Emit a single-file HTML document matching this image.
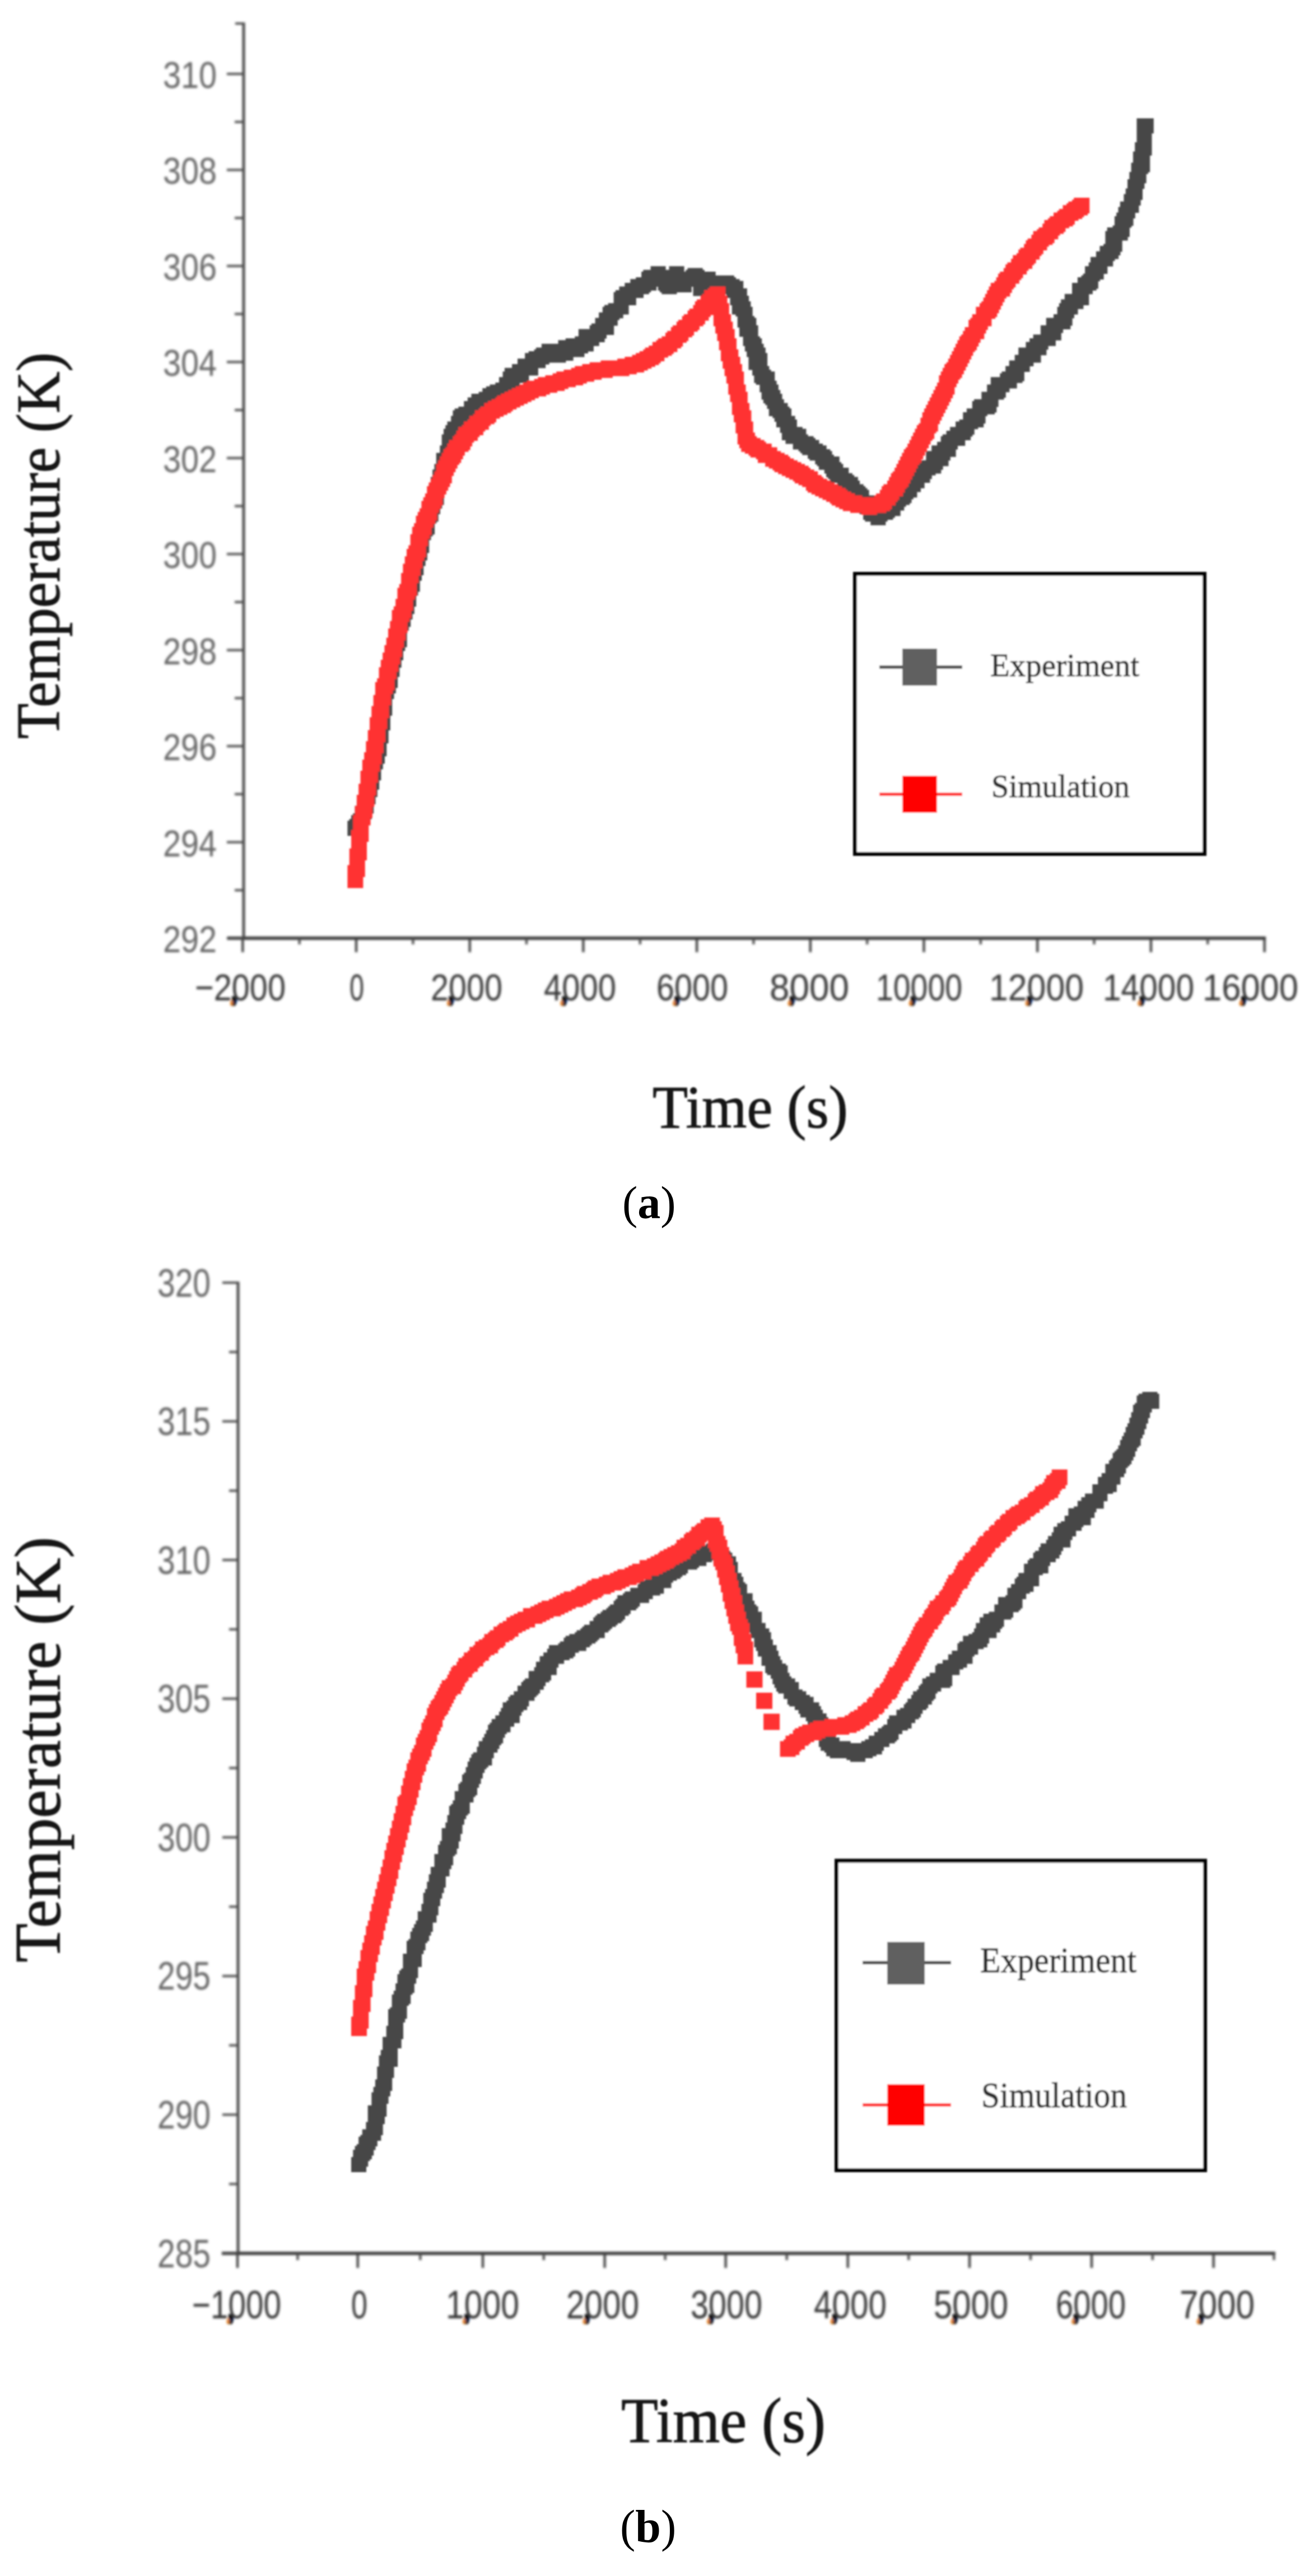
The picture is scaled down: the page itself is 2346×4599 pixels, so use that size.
<!DOCTYPE html>
<html lang="en"><head><meta charset="utf-8"><title>Temperature vs time: experiment and simulation</title>
<style>
html,body{margin:0;padding:0;background:#fff}
svg{display:block}
text{font-family:"Liberation Sans",sans-serif}
.serif{font-family:"Liberation Serif",serif}
</style></head><body>
<svg width="2346" height="4599" viewBox="0 0 2346 4599">
<defs>
<filter id="soft" x="-2%" y="-2%" width="104%" height="104%"><feGaussianBlur stdDeviation="1.6"/></filter>
<filter id="soft2" x="-2%" y="-2%" width="104%" height="104%"><feGaussianBlur stdDeviation="1.5"/></filter>
<filter id="softax" x="-2%" y="-2%" width="104%" height="104%"><feGaussianBlur stdDeviation="2.2"/></filter>
<filter id="softlb" x="-2%" y="-2%" width="104%" height="104%"><feGaussianBlur stdDeviation="2.0"/></filter>
</defs>
<rect width="2346" height="4599" fill="#fff"/>

<g filter="url(#softax)">
<path d="M435 40L435 1677.5" stroke="#4c4c4c" stroke-width="5" fill="none"/>
<path d="M406 1675L2260.1 1675" stroke="#3e3e3e" stroke-width="6" fill="none"/>
<path d="M420 42L435 42" stroke="#4c4c4c" stroke-width="4" fill="none"/>
<path d="M405 1675.0L435 1675.0" stroke="#4c4c4c" stroke-width="4" fill="none"/>
<path d="M419 1589.3L435 1589.3" stroke="#4c4c4c" stroke-width="4" fill="none"/>
<path d="M405 1503.6L435 1503.6" stroke="#4c4c4c" stroke-width="4" fill="none"/>
<path d="M419 1417.8L435 1417.8" stroke="#4c4c4c" stroke-width="4" fill="none"/>
<path d="M405 1332.1L435 1332.1" stroke="#4c4c4c" stroke-width="4" fill="none"/>
<path d="M419 1246.4L435 1246.4" stroke="#4c4c4c" stroke-width="4" fill="none"/>
<path d="M405 1160.7L435 1160.7" stroke="#4c4c4c" stroke-width="4" fill="none"/>
<path d="M419 1074.9L435 1074.9" stroke="#4c4c4c" stroke-width="4" fill="none"/>
<path d="M405 989.2L435 989.2" stroke="#4c4c4c" stroke-width="4" fill="none"/>
<path d="M419 903.5L435 903.5" stroke="#4c4c4c" stroke-width="4" fill="none"/>
<path d="M405 817.8L435 817.8" stroke="#4c4c4c" stroke-width="4" fill="none"/>
<path d="M419 732.1L435 732.1" stroke="#4c4c4c" stroke-width="4" fill="none"/>
<path d="M405 646.3L435 646.3" stroke="#4c4c4c" stroke-width="4" fill="none"/>
<path d="M419 560.6L435 560.6" stroke="#4c4c4c" stroke-width="4" fill="none"/>
<path d="M405 474.9L435 474.9" stroke="#4c4c4c" stroke-width="4" fill="none"/>
<path d="M419 389.2L435 389.2" stroke="#4c4c4c" stroke-width="4" fill="none"/>
<path d="M405 303.4L435 303.4" stroke="#4c4c4c" stroke-width="4" fill="none"/>
<path d="M419 217.7L435 217.7" stroke="#4c4c4c" stroke-width="4" fill="none"/>
<path d="M405 132.0L435 132.0" stroke="#4c4c4c" stroke-width="4" fill="none"/>
<path d="M433.3 1675L433.3 1700" stroke="#3e3e3e" stroke-width="4.2" fill="none"/>
<path d="M534.6 1675L534.6 1686" stroke="#4c4c4c" stroke-width="4.2" fill="none"/>
<path d="M636.0 1675L636.0 1700" stroke="#3e3e3e" stroke-width="4.2" fill="none"/>
<path d="M737.4 1675L737.4 1686" stroke="#4c4c4c" stroke-width="4.2" fill="none"/>
<path d="M838.7 1675L838.7 1700" stroke="#3e3e3e" stroke-width="4.2" fill="none"/>
<path d="M940.0 1675L940.0 1686" stroke="#4c4c4c" stroke-width="4.2" fill="none"/>
<path d="M1041.4 1675L1041.4 1700" stroke="#3e3e3e" stroke-width="4.2" fill="none"/>
<path d="M1142.8 1675L1142.8 1686" stroke="#4c4c4c" stroke-width="4.2" fill="none"/>
<path d="M1244.1 1675L1244.1 1700" stroke="#3e3e3e" stroke-width="4.2" fill="none"/>
<path d="M1345.4 1675L1345.4 1686" stroke="#4c4c4c" stroke-width="4.2" fill="none"/>
<path d="M1446.8 1675L1446.8 1700" stroke="#3e3e3e" stroke-width="4.2" fill="none"/>
<path d="M1548.2 1675L1548.2 1686" stroke="#4c4c4c" stroke-width="4.2" fill="none"/>
<path d="M1649.5 1675L1649.5 1700" stroke="#3e3e3e" stroke-width="4.2" fill="none"/>
<path d="M1750.8 1675L1750.8 1686" stroke="#4c4c4c" stroke-width="4.2" fill="none"/>
<path d="M1852.2 1675L1852.2 1700" stroke="#3e3e3e" stroke-width="4.2" fill="none"/>
<path d="M1953.5 1675L1953.5 1686" stroke="#4c4c4c" stroke-width="4.2" fill="none"/>
<path d="M2054.9 1675L2054.9 1700" stroke="#3e3e3e" stroke-width="4.2" fill="none"/>
<path d="M2156.2 1675L2156.2 1686" stroke="#4c4c4c" stroke-width="4.2" fill="none"/>
<path d="M2257.6 1675L2257.6 1700" stroke="#3e3e3e" stroke-width="4.2" fill="none"/>
</g>
<g filter="url(#softlb)">
<text x="291" y="1700.0" font-size="67.0" textLength="96" lengthAdjust="spacingAndGlyphs" fill="#666666">292</text>
<text x="291" y="1528.6" font-size="67.0" textLength="96" lengthAdjust="spacingAndGlyphs" fill="#666666">294</text>
<text x="291" y="1357.1" font-size="67.0" textLength="96" lengthAdjust="spacingAndGlyphs" fill="#666666">296</text>
<text x="291" y="1185.7" font-size="67.0" textLength="96" lengthAdjust="spacingAndGlyphs" fill="#666666">298</text>
<text x="291" y="1014.2" font-size="67.0" textLength="96" lengthAdjust="spacingAndGlyphs" fill="#666666">300</text>
<text x="291" y="842.8" font-size="67.0" textLength="96" lengthAdjust="spacingAndGlyphs" fill="#666666">302</text>
<text x="291" y="671.3" font-size="67.0" textLength="96" lengthAdjust="spacingAndGlyphs" fill="#666666">304</text>
<text x="291" y="499.9" font-size="67.0" textLength="96" lengthAdjust="spacingAndGlyphs" fill="#666666">306</text>
<text x="291" y="328.4" font-size="67.0" textLength="96" lengthAdjust="spacingAndGlyphs" fill="#666666">308</text>
<text x="291" y="157.0" font-size="67.0" textLength="96" lengthAdjust="spacingAndGlyphs" fill="#666666">310</text>
<ellipse cx="414.8" cy="1790.0" rx="3.6" ry="6" fill="#e8801e" transform="rotate(20 414.8 1790.0)"/>
<ellipse cx="419.8" cy="1787.5" rx="3.6" ry="6" fill="#1d6fe0" transform="rotate(20 419.8 1787.5)"/>
<text y="1785.5" font-size="67.0" fill="#383838"><tspan x="348" textLength="65.8" lengthAdjust="spacingAndGlyphs">−2</tspan><tspan x="411.3" y="1786.5" font-size="50.9" font-weight="bold" fill="#08080c" stroke="#08080c" stroke-width="1.5">,</tspan><tspan x="413.8" y="1785.5" textLength="96.2" lengthAdjust="spacingAndGlyphs">000</tspan></text>
<text x="624" y="1785.5" font-size="67.0" textLength="26" lengthAdjust="spacingAndGlyphs" fill="#383838">0</text>
<ellipse cx="802.0" cy="1790.0" rx="3.6" ry="6" fill="#e8801e" transform="rotate(20 802.0 1790.0)"/>
<ellipse cx="807.0" cy="1787.5" rx="3.6" ry="6" fill="#1d6fe0" transform="rotate(20 807.0 1787.5)"/>
<text y="1785.5" font-size="67.0" fill="#383838"><tspan x="769" textLength="32.0" lengthAdjust="spacingAndGlyphs">2</tspan><tspan x="798.5" y="1786.5" font-size="50.9" font-weight="bold" fill="#08080c" stroke="#08080c" stroke-width="1.5">,</tspan><tspan x="801.0" y="1785.5" textLength="96.0" lengthAdjust="spacingAndGlyphs">000</tspan></text>
<ellipse cx="1004.2" cy="1790.0" rx="3.6" ry="6" fill="#e8801e" transform="rotate(20 1004.2 1790.0)"/>
<ellipse cx="1009.2" cy="1787.5" rx="3.6" ry="6" fill="#1d6fe0" transform="rotate(20 1009.2 1787.5)"/>
<text y="1785.5" font-size="67.0" fill="#383838"><tspan x="971" textLength="32.2" lengthAdjust="spacingAndGlyphs">4</tspan><tspan x="1000.8" y="1786.5" font-size="50.9" font-weight="bold" fill="#08080c" stroke="#08080c" stroke-width="1.5">,</tspan><tspan x="1003.2" y="1785.5" textLength="96.8" lengthAdjust="spacingAndGlyphs">000</tspan></text>
<ellipse cx="1205.0" cy="1790.0" rx="3.6" ry="6" fill="#e8801e" transform="rotate(20 1205.0 1790.0)"/>
<ellipse cx="1210.0" cy="1787.5" rx="3.6" ry="6" fill="#1d6fe0" transform="rotate(20 1210.0 1787.5)"/>
<text y="1785.5" font-size="67.0" fill="#383838"><tspan x="1172" textLength="32.0" lengthAdjust="spacingAndGlyphs">6</tspan><tspan x="1201.5" y="1786.5" font-size="50.9" font-weight="bold" fill="#08080c" stroke="#08080c" stroke-width="1.5">,</tspan><tspan x="1204.0" y="1785.5" textLength="96.0" lengthAdjust="spacingAndGlyphs">000</tspan></text>
<ellipse cx="1410.5" cy="1790.0" rx="3.6" ry="6" fill="#e8801e" transform="rotate(20 1410.5 1790.0)"/>
<ellipse cx="1415.5" cy="1787.5" rx="3.6" ry="6" fill="#1d6fe0" transform="rotate(20 1415.5 1787.5)"/>
<text y="1785.5" font-size="67.0" fill="#383838"><tspan x="1374" textLength="35.5" lengthAdjust="spacingAndGlyphs">8</tspan><tspan x="1407.0" y="1786.5" font-size="50.9" font-weight="bold" fill="#08080c" stroke="#08080c" stroke-width="1.5">,</tspan><tspan x="1409.5" y="1785.5" textLength="106.5" lengthAdjust="spacingAndGlyphs">000</tspan></text>
<ellipse cx="1626.6" cy="1790.0" rx="3.6" ry="6" fill="#e8801e" transform="rotate(20 1626.6 1790.0)"/>
<ellipse cx="1631.6" cy="1787.5" rx="3.6" ry="6" fill="#1d6fe0" transform="rotate(20 1631.6 1787.5)"/>
<text y="1785.5" font-size="67.0" fill="#383838"><tspan x="1564" textLength="61.6" lengthAdjust="spacingAndGlyphs">10</tspan><tspan x="1623.1" y="1786.5" font-size="50.9" font-weight="bold" fill="#08080c" stroke="#08080c" stroke-width="1.5">,</tspan><tspan x="1625.6" y="1785.5" textLength="92.4" lengthAdjust="spacingAndGlyphs">000</tspan></text>
<ellipse cx="1834.6" cy="1790.0" rx="3.6" ry="6" fill="#e8801e" transform="rotate(20 1834.6 1790.0)"/>
<ellipse cx="1839.6" cy="1787.5" rx="3.6" ry="6" fill="#1d6fe0" transform="rotate(20 1839.6 1787.5)"/>
<text y="1785.5" font-size="67.0" fill="#383838"><tspan x="1766" textLength="67.6" lengthAdjust="spacingAndGlyphs">12</tspan><tspan x="1831.1" y="1786.5" font-size="50.9" font-weight="bold" fill="#08080c" stroke="#08080c" stroke-width="1.5">,</tspan><tspan x="1833.6" y="1785.5" textLength="101.4" lengthAdjust="spacingAndGlyphs">000</tspan></text>
<ellipse cx="2035.2" cy="1790.0" rx="3.6" ry="6" fill="#e8801e" transform="rotate(20 2035.2 1790.0)"/>
<ellipse cx="2040.2" cy="1787.5" rx="3.6" ry="6" fill="#1d6fe0" transform="rotate(20 2040.2 1787.5)"/>
<text y="1785.5" font-size="67.0" fill="#383838"><tspan x="1969" textLength="65.2" lengthAdjust="spacingAndGlyphs">14</tspan><tspan x="2031.7" y="1786.5" font-size="50.9" font-weight="bold" fill="#08080c" stroke="#08080c" stroke-width="1.5">,</tspan><tspan x="2034.2" y="1785.5" textLength="97.8" lengthAdjust="spacingAndGlyphs">000</tspan></text>
<ellipse cx="2216.4" cy="1790.0" rx="3.6" ry="6" fill="#e8801e" transform="rotate(20 2216.4 1790.0)"/>
<ellipse cx="2221.4" cy="1787.5" rx="3.6" ry="6" fill="#1d6fe0" transform="rotate(20 2221.4 1787.5)"/>
<text y="1785.5" font-size="67.0" fill="#383838"><tspan x="2147" textLength="68.4" lengthAdjust="spacingAndGlyphs">16</tspan><tspan x="2212.9" y="1786.5" font-size="50.9" font-weight="bold" fill="#08080c" stroke="#08080c" stroke-width="1.5">,</tspan><tspan x="2215.4" y="1785.5" textLength="102.6" lengthAdjust="spacingAndGlyphs">000</tspan></text>
</g>
<g filter="url(#soft2)">
<path fill="#464646" d="M620.4 1465.2h27v27h-27zM623.7 1461.9h27v27h-27zM627 1455.3h27v27h-27zM630.3 1452h27v27h-27zM633.6 1445.4h27v27h-27zM633.6 1438.8h27v27h-27zM636.9 1435.5h27v27h-27zM636.9 1428.9h27v27h-27zM640.2 1425.6h27v27h-27zM640.2 1419h27v27h-27zM643.5 1409.1h27v27h-27zM643.5 1405.8h27v27h-27zM643.5 1399.2h27v27h-27zM646.8 1395.9h27v27h-27zM646.8 1389.3h27v27h-27zM650.1 1382.7h27v27h-27zM650.1 1376.1h27v27h-27zM650.1 1369.5h27v27h-27zM653.4 1366.2h27v27h-27zM653.4 1359.6h27v27h-27zM653.4 1353h27v27h-27zM656.7 1346.4h27v27h-27zM656.7 1343.1h27v27h-27zM660 1336.5h27v27h-27zM660 1329.9h27v27h-27zM663.3 1323.3h27v27h-27zM660 1320h27v27h-27zM663.3 1313.4h27v27h-27zM663.3 1306.8h27v27h-27zM666.6 1300.2h27v27h-27zM666.6 1293.6h27v27h-27zM666.6 1287h27v27h-27zM666.6 1283.7h27v27h-27zM669.9 1277.1h27v27h-27zM669.9 1270.5h27v27h-27zM669.9 1263.9h27v27h-27zM669.9 1260.6h27v27h-27zM673.2 1250.7h27v27h-27zM673.2 1247.4h27v27h-27zM673.2 1240.8h27v27h-27zM673.2 1234.2h27v27h-27zM673.2 1230.9h27v27h-27zM676.5 1221h27v27h-27zM676.5 1217.7h27v27h-27zM679.8 1211.1h27v27h-27zM679.8 1207.8h27v27h-27zM683.1 1201.2h27v27h-27zM683.1 1194.6h27v27h-27zM683.1 1188h27v27h-27zM686.4 1181.4h27v27h-27zM686.4 1174.8h27v27h-27zM686.4 1171.5h27v27h-27zM689.7 1164.9h27v27h-27zM689.7 1158.3h27v27h-27zM693 1151.7h27v27h-27zM693 1148.4h27v27h-27zM693 1141.8h27v27h-27zM696.3 1135.2h27v27h-27zM699.6 1128.6h27v27h-27zM699.6 1125.3h27v27h-27zM699.6 1118.7h27v27h-27zM699.6 1112.1h27v27h-27zM699.6 1105.5h27v27h-27zM702.9 1098.9h27v27h-27zM706.2 1092.3h27v27h-27zM706.2 1085.7h27v27h-27zM706.2 1082.4h27v27h-27zM709.5 1079.1h27v27h-27zM712.8 1069.2h27v27h-27zM712.8 1065.9h27v27h-27zM712.8 1059.3h27v27h-27zM716.1 1056h27v27h-27zM716.1 1046.1h27v27h-27zM716.1 1039.5h27v27h-27zM719.4 1036.2h27v27h-27zM722.7 1029.6h27v27h-27zM719.4 1026.3h27v27h-27zM722.7 1016.4h27v27h-27zM726 1009.8h27v27h-27zM726 1006.5h27v27h-27zM729.3 999.9h27v27h-27zM729.3 993.3h27v27h-27zM729.3 990h27v27h-27zM732.6 983.4h27v27h-27zM732.6 976.8h27v27h-27zM735.9 973.5h27v27h-27zM735.9 966.9h27v27h-27zM739.2 960.3h27v27h-27zM739.2 953.7h27v27h-27zM739.2 947.1h27v27h-27zM739.2 940.5h27v27h-27zM742.5 937.2h27v27h-27zM745.8 930.6h27v27h-27zM749.1 927.3h27v27h-27zM749.1 920.7h27v27h-27zM749.1 914.1h27v27h-27zM752.4 907.5h27v27h-27zM755.7 904.2h27v27h-27zM755.7 897.6h27v27h-27zM759 891h27v27h-27zM759 884.4h27v27h-27zM762.3 881.1h27v27h-27zM765.6 874.5h27v27h-27zM765.6 867.9h27v27h-27zM765.6 864.6h27v27h-27zM768.9 854.7h27v27h-27zM768.9 851.4h27v27h-27zM772.2 844.8h27v27h-27zM772.2 838.2h27v27h-27zM775.5 834.9h27v27h-27zM775.5 828.3h27v27h-27zM778.8 821.7h27v27h-27zM778.8 815.1h27v27h-27zM778.8 808.5h27v27h-27zM785.4 805.2h27v27h-27zM785.4 798.6h27v27h-27zM785.4 795.3h27v27h-27zM788.7 785.4h27v27h-27zM788.7 782.1h27v27h-27zM788.7 775.5h27v27h-27zM792 768.9h27v27h-27zM792 765.6h27v27h-27zM795.3 759h27v27h-27zM798.6 759h27v27h-27zM798.6 752.4h27v27h-27zM805.2 742.5h27v27h-27zM808.5 732.6h27v27h-27zM811.8 729.3h27v27h-27zM811.8 732.6h27v27h-27zM818.4 726h27v27h-27zM828.3 722.7h27v27h-27zM828.3 716.1h27v27h-27zM834.9 716.1h27v27h-27zM834.9 709.5h27v27h-27zM841.5 702.9h27v27h-27zM851.4 702.9h27v27h-27zM854.7 699.6h27v27h-27zM861.3 693h27v27h-27zM864.6 693h27v27h-27zM867.9 689.7h27v27h-27zM874.5 686.4h27v27h-27zM877.8 686.4h27v27h-27zM884.4 683.1h27v27h-27zM891 673.2h27v27h-27zM894.3 676.5h27v27h-27zM900.9 663.3h27v27h-27zM897.6 663.3h27v27h-27zM900.9 656.7h27v27h-27zM904.2 656.7h27v27h-27zM917.4 656.7h27v27h-27zM914.1 650.1h27v27h-27zM924 640.2h27v27h-27zM933.9 643.5h27v27h-27zM930.6 640.2h27v27h-27zM937.2 630.3h27v27h-27zM947.1 630.3h27v27h-27zM943.8 627h27v27h-27zM953.7 623.7h27v27h-27zM957 620.4h27v27h-27zM966.9 613.8h27v27h-27zM970.2 617.1h27v27h-27zM970.2 613.8h27v27h-27zM983.4 617.1h27v27h-27zM983.4 620.4h27v27h-27zM996.6 617.1h27v27h-27zM996.6 607.2h27v27h-27zM999.9 610.5h27v27h-27zM1009.8 603.9h27v27h-27zM1016.4 610.5h27v27h-27zM1026.3 600.6h27v27h-27zM1023 603.9h27v27h-27zM1032.9 600.6h27v27h-27zM1032.9 587.4h27v27h-27zM1042.8 587.4h27v27h-27zM1042.8 590.7h27v27h-27zM1052.7 584.1h27v27h-27zM1052.7 580.8h27v27h-27zM1056 577.5h27v27h-27zM1062.6 567.6h27v27h-27zM1069.2 570.9h27v27h-27zM1069.2 557.7h27v27h-27zM1075.8 554.4h27v27h-27zM1075.8 547.8h27v27h-27zM1079.1 544.5h27v27h-27zM1085.7 541.2h27v27h-27zM1095.6 534.6h27v27h-27zM1095.6 528h27v27h-27zM1095.6 521.4h27v27h-27zM1098.9 518.1h27v27h-27zM1108.8 518.1h27v27h-27zM1105.5 511.5h27v27h-27zM1115.4 504.9h27v27h-27zM1118.7 504.9h27v27h-27zM1122 504.9h27v27h-27zM1125.3 498.3h27v27h-27zM1131.9 498.3h27v27h-27zM1135.2 495h27v27h-27zM1145.1 491.7h27v27h-27zM1145.1 485.1h27v27h-27zM1148.4 481.8h27v27h-27zM1151.7 485.1h27v27h-27zM1161.6 475.2h27v27h-27zM1161.6 481.8h27v27h-27zM1174.8 481.8h27v27h-27zM1171.5 485.1h27v27h-27zM1174.8 491.7h27v27h-27zM1178.1 495h27v27h-27zM1181.4 498.3h27v27h-27zM1194.6 488.4h27v27h-27zM1188 488.4h27v27h-27zM1194.6 475.2h27v27h-27zM1194.6 478.5h27v27h-27zM1201.2 485.1h27v27h-27zM1201.2 488.4h27v27h-27zM1204.5 491.7h27v27h-27zM1207.8 495h27v27h-27zM1211.1 485.1h27v27h-27zM1217.7 485.1h27v27h-27zM1224.3 481.8h27v27h-27zM1227.6 478.5h27v27h-27zM1230.9 481.8h27v27h-27zM1230.9 481.8h27v27h-27zM1240.8 485.1h27v27h-27zM1244.1 495h27v27h-27zM1237.5 501.6h27v27h-27zM1254 495h27v27h-27zM1254 491.7h27v27h-27zM1250.7 485.1h27v27h-27zM1260.6 491.7h27v27h-27zM1270.5 495h27v27h-27zM1270.5 498.3h27v27h-27zM1277.1 498.3h27v27h-27zM1277.1 491.7h27v27h-27zM1283.7 491.7h27v27h-27zM1287 495h27v27h-27zM1293.6 498.3h27v27h-27zM1296.9 504.9h27v27h-27zM1300.2 501.6h27v27h-27zM1306.8 514.8h27v27h-27zM1303.5 518.1h27v27h-27zM1306.8 521.4h27v27h-27zM1310.1 528h27v27h-27zM1306.8 534.6h27v27h-27zM1313.4 537.9h27v27h-27zM1316.7 547.8h27v27h-27zM1316.7 551.1h27v27h-27zM1316.7 557.7h27v27h-27zM1320 564.3h27v27h-27zM1323.3 567.6h27v27h-27zM1320 574.2h27v27h-27zM1326.6 580.8h27v27h-27zM1326.6 584.1h27v27h-27zM1326.6 590.7h27v27h-27zM1329.9 600.6h27v27h-27zM1333.2 603.9h27v27h-27zM1333.2 610.5h27v27h-27zM1336.5 613.8h27v27h-27zM1339.8 620.4h27v27h-27zM1343.1 630.3h27v27h-27zM1336.5 633.6h27v27h-27zM1343.1 640.2h27v27h-27zM1343.1 643.5h27v27h-27zM1346.4 653.4h27v27h-27zM1346.4 656.7h27v27h-27zM1349.7 660h27v27h-27zM1356.3 663.3h27v27h-27zM1356.3 673.2h27v27h-27zM1359.6 679.8h27v27h-27zM1359.6 686.4h27v27h-27zM1362.9 686.4h27v27h-27zM1362.9 693h27v27h-27zM1366.2 696.3h27v27h-27zM1369.5 702.9h27v27h-27zM1372.8 712.8h27v27h-27zM1372.8 716.1h27v27h-27zM1379.4 719.4h27v27h-27zM1382.7 726h27v27h-27zM1386 729.3h27v27h-27zM1386 735.9h27v27h-27zM1392.6 742.5h27v27h-27zM1392.6 745.8h27v27h-27zM1395.9 749.1h27v27h-27zM1395.9 759h27v27h-27zM1402.5 765.6h27v27h-27zM1405.8 762.3h27v27h-27zM1412.4 765.6h27v27h-27zM1415.7 775.5h27v27h-27zM1425.6 778.8h27v27h-27zM1428.9 782.1h27v27h-27zM1432.2 785.4h27v27h-27zM1435.5 785.4h27v27h-27zM1442.1 792h27v27h-27zM1445.4 795.3h27v27h-27zM1448.7 795.3h27v27h-27zM1455.3 801.9h27v27h-27zM1458.6 805.2h27v27h-27zM1461.9 811.8h27v27h-27zM1471.8 815.1h27v27h-27zM1471.8 818.4h27v27h-27zM1475.1 825h27v27h-27zM1478.4 828.3h27v27h-27zM1481.7 834.9h27v27h-27zM1488.3 834.9h27v27h-27zM1494.9 844.8h27v27h-27zM1494.9 844.8h27v27h-27zM1498.2 848.1h27v27h-27zM1504.8 851.4h27v27h-27zM1508.1 858h27v27h-27zM1514.7 864.6h27v27h-27zM1518 867.9h27v27h-27zM1521.3 871.2h27v27h-27zM1524.6 874.5h27v27h-27zM1524.6 881.1h27v27h-27zM1534.5 884.4h27v27h-27zM1534.5 891h27v27h-27zM1541.1 894.3h27v27h-27zM1541.1 900.9h27v27h-27zM1544.4 904.2h27v27h-27zM1554.3 910.8h27v27h-27zM1557.6 904.2h27v27h-27zM1554.3 907.5h27v27h-27zM1567.5 900.9h27v27h-27zM1570.8 894.3h27v27h-27zM1570.8 897.6h27v27h-27zM1580.7 894.3h27v27h-27zM1587.3 884.4h27v27h-27zM1584 877.8h27v27h-27zM1590.6 877.8h27v27h-27zM1597.2 874.5h27v27h-27zM1600.5 871.2h27v27h-27zM1603.8 864.6h27v27h-27zM1603.8 861.3h27v27h-27zM1610.4 861.3h27v27h-27zM1617 851.4h27v27h-27zM1617 844.8h27v27h-27zM1623.6 844.8h27v27h-27zM1623.6 834.9h27v27h-27zM1633.5 834.9h27v27h-27zM1636.8 828.3h27v27h-27zM1640.1 821.7h27v27h-27zM1643.4 821.7h27v27h-27zM1653.3 818.4h27v27h-27zM1656.6 811.8h27v27h-27zM1653.3 805.2h27v27h-27zM1666.5 805.2h27v27h-27zM1663.2 795.3h27v27h-27zM1669.8 795.3h27v27h-27zM1673.1 788.7h27v27h-27zM1679.7 788.7h27v27h-27zM1679.7 778.8h27v27h-27zM1683 775.5h27v27h-27zM1689.6 768.9h27v27h-27zM1696.2 768.9h27v27h-27zM1696.2 762.3h27v27h-27zM1706.1 759h27v27h-27zM1709.4 752.4h27v27h-27zM1706.1 752.4h27v27h-27zM1712.7 749.1h27v27h-27zM1719.3 739.2h27v27h-27zM1719.3 735.9h27v27h-27zM1729.2 735.9h27v27h-27zM1725.9 729.3h27v27h-27zM1732.5 729.3h27v27h-27zM1735.8 716.1h27v27h-27zM1739.1 712.8h27v27h-27zM1749 712.8h27v27h-27zM1752.3 709.5h27v27h-27zM1755.6 699.6h27v27h-27zM1752.3 699.6h27v27h-27zM1762.2 686.4h27v27h-27zM1765.5 686.4h27v27h-27zM1768.8 683.1h27v27h-27zM1768.8 673.2h27v27h-27zM1775.4 673.2h27v27h-27zM1785.3 666.6h27v27h-27zM1788.6 663.3h27v27h-27zM1788.6 666.6h27v27h-27zM1798.5 656.7h27v27h-27zM1795.2 653.4h27v27h-27zM1801.8 653.4h27v27h-27zM1801.8 643.5h27v27h-27zM1811.7 633.6h27v27h-27zM1811.7 636.9h27v27h-27zM1818.3 627h27v27h-27zM1818.3 620.4h27v27h-27zM1828.2 620.4h27v27h-27zM1831.5 620.4h27v27h-27zM1831.5 610.5h27v27h-27zM1841.4 607.2h27v27h-27zM1838.1 603.9h27v27h-27zM1844.7 597.3h27v27h-27zM1844.7 597.3h27v27h-27zM1857.9 590.7h27v27h-27zM1861.2 580.8h27v27h-27zM1857.9 580.8h27v27h-27zM1867.8 580.8h27v27h-27zM1867.8 567.6h27v27h-27zM1871.1 567.6h27v27h-27zM1881 561h27v27h-27zM1884.3 561h27v27h-27zM1887.6 554.4h27v27h-27zM1887.6 547.8h27v27h-27zM1890.9 541.2h27v27h-27zM1897.5 534.6h27v27h-27zM1894.2 534.6h27v27h-27zM1900.8 524.7h27v27h-27zM1900.8 524.7h27v27h-27zM1907.4 524.7h27v27h-27zM1917.3 518.1h27v27h-27zM1914 504.9h27v27h-27zM1917.3 504.9h27v27h-27zM1923.9 498.3h27v27h-27zM1923.9 495h27v27h-27zM1930.5 491.7h27v27h-27zM1933.8 488.4h27v27h-27zM1937.1 475.2h27v27h-27zM1943.7 471.9h27v27h-27zM1943.7 468.6h27v27h-27zM1950.3 462h27v27h-27zM1947 458.7h27v27h-27zM1950.3 458.7h27v27h-27zM1956.9 448.8h27v27h-27zM1960.2 448.8h27v27h-27zM1963.5 438.9h27v27h-27zM1970.1 435.6h27v27h-27zM1973.4 425.7h27v27h-27zM1973.4 429h27v27h-27zM1976.7 422.4h27v27h-27zM1973.4 412.5h27v27h-27zM1976.7 405.9h27v27h-27zM1986.6 402.6h27v27h-27zM1989.9 396h27v27h-27zM1989.9 392.7h27v27h-27zM1989.9 386.1h27v27h-27zM1993.2 379.5h27v27h-27zM1996.5 376.2h27v27h-27zM1996.5 369.6h27v27h-27zM1999.8 363h27v27h-27zM1999.8 359.7h27v27h-27zM2006.4 353.1h27v27h-27zM2006.4 346.5h27v27h-27zM2009.7 339.9h27v27h-27zM2009.7 336.6h27v27h-27zM2013 330h27v27h-27zM2013 323.4h27v27h-27zM2013 320.1h27v27h-27zM2016.3 310.2h27v27h-27zM2016.3 306.9h27v27h-27zM2019.6 300.3h27v27h-27zM2019.6 297h27v27h-27zM2019.6 290.4h27v27h-27zM2022.9 283.8h27v27h-27zM2026.2 280.5h27v27h-27zM2022.9 270.6h27v27h-27zM2026.2 264h27v27h-27zM2026.2 260.7h27v27h-27zM2026.2 254.1h27v27h-27zM2029.5 250.8h27v27h-27zM2029.5 240.9h27v27h-27zM2029.5 237.6h27v27h-27zM2029.5 231h27v27h-27zM2029.5 224.4h27v27h-27zM2029.5 217.8h27v27h-27zM2029.5 211.2h27v27h-27zM2032.8 211.2h27v27h-27z"/>
<path fill="#ff3131" d="M620.4 1557.6h28v28h-28zM620.4 1551h28v28h-28zM620.4 1544.4h28v28h-28zM623.7 1537.8h28v28h-28zM623.7 1531.2h28v28h-28zM623.7 1524.6h28v28h-28zM623.7 1514.7h28v28h-28zM627 1508.1h28v28h-28zM627 1501.5h28v28h-28zM627 1494.9h28v28h-28zM627 1488.3h28v28h-28zM627 1481.7h28v28h-28zM630.3 1475.1h28v28h-28zM630.3 1468.5h28v28h-28zM630.3 1461.9h28v28h-28zM630.3 1455.3h28v28h-28zM633.6 1445.4h28v28h-28zM633.6 1438.8h28v28h-28zM636.9 1432.2h28v28h-28zM636.9 1425.6h28v28h-28zM636.9 1419h28v28h-28zM640.2 1412.4h28v28h-28zM640.2 1405.8h28v28h-28zM640.2 1399.2h28v28h-28zM643.5 1392.6h28v28h-28zM643.5 1386h28v28h-28zM643.5 1376.1h28v28h-28zM646.8 1369.5h28v28h-28zM646.8 1362.9h28v28h-28zM646.8 1356.3h28v28h-28zM650.1 1349.7h28v28h-28zM650.1 1343.1h28v28h-28zM653.4 1336.5h28v28h-28zM653.4 1329.9h28v28h-28zM653.4 1323.3h28v28h-28zM656.7 1316.7h28v28h-28zM656.7 1310.1h28v28h-28zM656.7 1303.5h28v28h-28zM660 1296.9h28v28h-28zM660 1287h28v28h-28zM660 1280.4h28v28h-28zM663.3 1273.8h28v28h-28zM663.3 1267.2h28v28h-28zM663.3 1260.6h28v28h-28zM666.6 1254h28v28h-28zM666.6 1247.4h28v28h-28zM666.6 1240.8h28v28h-28zM669.9 1230.9h28v28h-28zM669.9 1224.3h28v28h-28zM669.9 1217.7h28v28h-28zM673.2 1211.1h28v28h-28zM676.5 1204.5h28v28h-28zM676.5 1197.9h28v28h-28zM676.5 1191.3h28v28h-28zM679.8 1184.7h28v28h-28zM679.8 1178.1h28v28h-28zM683.1 1171.5h28v28h-28zM683.1 1164.9h28v28h-28zM686.4 1158.3h28v28h-28zM686.4 1151.7h28v28h-28zM689.7 1145.1h28v28h-28zM689.7 1138.5h28v28h-28zM693 1128.6h28v28h-28zM693 1122h28v28h-28zM696.3 1115.4h28v28h-28zM696.3 1108.8h28v28h-28zM699.6 1102.2h28v28h-28zM699.6 1095.6h28v28h-28zM699.6 1089h28v28h-28zM702.9 1082.4h28v28h-28zM706.2 1075.8h28v28h-28zM706.2 1069.2h28v28h-28zM709.5 1062.6h28v28h-28zM709.5 1056h28v28h-28zM709.5 1049.4h28v28h-28zM712.8 1042.8h28v28h-28zM716.1 1036.2h28v28h-28zM716.1 1029.6h28v28h-28zM716.1 1023h28v28h-28zM719.4 1013.1h28v28h-28zM719.4 1006.5h28v28h-28zM722.7 999.9h28v28h-28zM722.7 993.3h28v28h-28zM726 986.7h28v28h-28zM726 980.1h28v28h-28zM729.3 973.5h28v28h-28zM732.6 966.9h28v28h-28zM732.6 960.3h28v28h-28zM732.6 953.7h28v28h-28zM735.9 947.1h28v28h-28zM735.9 940.5h28v28h-28zM739.2 933.9h28v28h-28zM742.5 927.3h28v28h-28zM742.5 920.7h28v28h-28zM745.8 914.1h28v28h-28zM749.1 907.5h28v28h-28zM752.4 900.9h28v28h-28zM752.4 894.3h28v28h-28zM755.7 887.7h28v28h-28zM759 881.1h28v28h-28zM762.3 874.5h28v28h-28zM762.3 867.9h28v28h-28zM765.6 861.3h28v28h-28zM768.9 854.7h28v28h-28zM772.2 848.1h28v28h-28zM775.5 841.5h28v28h-28zM778.8 834.9h28v28h-28zM778.8 828.3h28v28h-28zM782.1 821.7h28v28h-28zM785.4 815.1h28v28h-28zM788.7 808.5h28v28h-28zM792 801.9h28v28h-28zM795.3 798.6h28v28h-28zM798.6 792h28v28h-28zM801.9 785.4h28v28h-28zM808.5 778.8h28v28h-28zM811.8 775.5h28v28h-28zM815.1 768.9h28v28h-28zM818.4 762.3h28v28h-28zM825 759h28v28h-28zM828.3 752.4h28v28h-28zM834.9 749.1h28v28h-28zM838.2 742.5h28v28h-28zM844.8 739.2h28v28h-28zM848.1 732.6h28v28h-28zM854.7 729.3h28v28h-28zM858 726h28v28h-28zM864.6 719.4h28v28h-28zM871.2 716.1h28v28h-28zM877.8 712.8h28v28h-28zM884.4 709.5h28v28h-28zM887.7 706.2h28v28h-28zM894.3 702.9h28v28h-28zM900.9 699.6h28v28h-28zM907.5 696.3h28v28h-28zM914.1 693h28v28h-28zM920.7 689.7h28v28h-28zM927.3 686.4h28v28h-28zM933.9 683.1h28v28h-28zM940.5 679.8h28v28h-28zM947.1 679.8h28v28h-28zM953.7 676.5h28v28h-28zM960.3 673.2h28v28h-28zM966.9 673.2h28v28h-28zM973.5 669.9h28v28h-28zM980.1 669.9h28v28h-28zM986.7 666.6h28v28h-28zM993.3 663.3h28v28h-28zM999.9 663.3h28v28h-28zM1006.5 660h28v28h-28zM1013.1 660h28v28h-28zM1019.7 656.7h28v28h-28zM1026.3 653.4h28v28h-28zM1032.9 653.4h28v28h-28zM1039.5 650.1h28v28h-28zM1046.1 650.1h28v28h-28zM1052.7 646.8h28v28h-28zM1059.3 646.8h28v28h-28zM1065.9 646.8h28v28h-28zM1072.5 643.5h28v28h-28zM1082.4 643.5h28v28h-28zM1089 643.5h28v28h-28zM1095.6 643.5h28v28h-28zM1102.2 640.2h28v28h-28zM1108.8 640.2h28v28h-28zM1115.4 636.9h28v28h-28zM1122 636.9h28v28h-28zM1128.6 633.6h28v28h-28zM1135.2 630.3h28v28h-28zM1141.8 627h28v28h-28zM1148.4 623.7h28v28h-28zM1151.7 620.4h28v28h-28zM1158.3 617.1h28v28h-28zM1164.9 610.5h28v28h-28zM1171.5 607.2h28v28h-28zM1174.8 603.9h28v28h-28zM1181.4 600.6h28v28h-28zM1188 594h28v28h-28zM1191.3 590.7h28v28h-28zM1197.9 584.1h28v28h-28zM1201.2 580.8h28v28h-28zM1207.8 574.2h28v28h-28zM1211.1 570.9h28v28h-28zM1217.7 564.3h28v28h-28zM1221 561h28v28h-28zM1227.6 554.4h28v28h-28zM1230.9 551.1h28v28h-28zM1237.5 544.5h28v28h-28zM1240.8 537.9h28v28h-28zM1244.1 534.6h28v28h-28zM1250.7 528h28v28h-28zM1254 524.7h28v28h-28zM1257.3 518.1h28v28h-28zM1263.9 514.8h28v28h-28zM1267.2 511.5h28v28h-28zM1267.2 521.4h28v28h-28zM1270.5 528h28v28h-28zM1270.5 534.6h28v28h-28zM1273.8 541.2h28v28h-28zM1273.8 547.8h28v28h-28zM1273.8 554.4h28v28h-28zM1277.1 561h28v28h-28zM1277.1 567.6h28v28h-28zM1280.4 574.2h28v28h-28zM1280.4 580.8h28v28h-28zM1283.7 587.4h28v28h-28zM1283.7 597.3h28v28h-28zM1287 603.9h28v28h-28zM1287 610.5h28v28h-28zM1287 617.1h28v28h-28zM1290.3 623.7h28v28h-28zM1290.3 630.3h28v28h-28zM1293.6 636.9h28v28h-28zM1293.6 643.5h28v28h-28zM1296.9 650.1h28v28h-28zM1296.9 656.7h28v28h-28zM1300.2 663.3h28v28h-28zM1300.2 669.9h28v28h-28zM1300.2 676.5h28v28h-28zM1303.5 686.4h28v28h-28zM1303.5 689.7h28v28h-28zM1306.8 699.6h28v28h-28zM1306.8 706.2h28v28h-28zM1306.8 712.8h28v28h-28zM1310.1 719.4h28v28h-28zM1310.1 726h28v28h-28zM1313.4 732.6h28v28h-28zM1313.4 739.2h28v28h-28zM1313.4 745.8h28v28h-28zM1316.7 752.4h28v28h-28zM1316.7 759h28v28h-28zM1316.7 765.6h28v28h-28zM1320 772.2h28v28h-28zM1323.3 778.8h28v28h-28zM1329.9 782.1h28v28h-28zM1336.5 785.4h28v28h-28zM1339.8 788.7h28v28h-28zM1349.7 792h28v28h-28zM1353 798.6h28v28h-28zM1359.6 798.6h28v28h-28zM1366.2 805.2h28v28h-28zM1372.8 808.5h28v28h-28zM1379.4 811.8h28v28h-28zM1382.7 815.1h28v28h-28zM1389.3 818.4h28v28h-28zM1395.9 821.7h28v28h-28zM1402.5 825h28v28h-28zM1409.1 828.3h28v28h-28zM1415.7 831.6h28v28h-28zM1419 834.9h28v28h-28zM1425.6 838.2h28v28h-28zM1432.2 841.5h28v28h-28zM1438.8 848.1h28v28h-28zM1442.1 851.4h28v28h-28zM1448.7 854.7h28v28h-28zM1455.3 858h28v28h-28zM1461.9 861.3h28v28h-28zM1468.5 864.6h28v28h-28zM1475.1 867.9h28v28h-28zM1481.7 871.2h28v28h-28zM1485 874.5h28v28h-28zM1491.6 877.8h28v28h-28zM1498.2 881.1h28v28h-28zM1504.8 884.4h28v28h-28zM1511.4 884.4h28v28h-28zM1518 887.7h28v28h-28zM1524.6 887.7h28v28h-28zM1534.5 887.7h28v28h-28zM1537.8 891h28v28h-28zM1547.7 887.7h28v28h-28zM1554.3 887.7h28v28h-28zM1560.9 884.4h28v28h-28zM1564.2 881.1h28v28h-28zM1570.8 874.5h28v28h-28zM1574.1 867.9h28v28h-28zM1577.4 864.6h28v28h-28zM1584 858h28v28h-28zM1587.3 851.4h28v28h-28zM1590.6 844.8h28v28h-28zM1593.9 841.5h28v28h-28zM1597.2 834.9h28v28h-28zM1600.5 828.3h28v28h-28zM1603.8 821.7h28v28h-28zM1607.1 815.1h28v28h-28zM1610.4 808.5h28v28h-28zM1613.7 801.9h28v28h-28zM1617 798.6h28v28h-28zM1620.3 792h28v28h-28zM1623.6 785.4h28v28h-28zM1626.9 778.8h28v28h-28zM1630.2 772.2h28v28h-28zM1633.5 765.6h28v28h-28zM1636.8 759h28v28h-28zM1640.1 755.7h28v28h-28zM1643.4 745.8h28v28h-28zM1646.7 742.5h28v28h-28zM1646.7 735.9h28v28h-28zM1650 729.3h28v28h-28zM1653.3 722.7h28v28h-28zM1656.6 716.1h28v28h-28zM1659.9 709.5h28v28h-28zM1663.2 702.9h28v28h-28zM1666.5 696.3h28v28h-28zM1669.8 689.7h28v28h-28zM1673.1 683.1h28v28h-28zM1676.4 676.5h28v28h-28zM1676.4 669.9h28v28h-28zM1679.7 663.3h28v28h-28zM1683 656.7h28v28h-28zM1686.3 650.1h28v28h-28zM1689.6 646.8h28v28h-28zM1692.9 640.2h28v28h-28zM1696.2 633.6h28v28h-28zM1699.5 627h28v28h-28zM1702.8 620.4h28v28h-28zM1706.1 613.8h28v28h-28zM1709.4 607.2h28v28h-28zM1712.7 600.6h28v28h-28zM1716 597.3h28v28h-28zM1719.3 590.7h28v28h-28zM1722.6 584.1h28v28h-28zM1729.2 577.5h28v28h-28zM1729.2 570.9h28v28h-28zM1732.5 567.6h28v28h-28zM1735.8 561h28v28h-28zM1742.4 554.4h28v28h-28zM1742.4 547.8h28v28h-28zM1749 541.2h28v28h-28zM1752.3 537.9h28v28h-28zM1755.6 531.3h28v28h-28zM1758.9 524.7h28v28h-28zM1762.2 518.1h28v28h-28zM1765.5 511.5h28v28h-28zM1768.8 504.9h28v28h-28zM1775.4 501.6h28v28h-28zM1778.7 495h28v28h-28zM1782 488.4h28v28h-28zM1785.3 485.1h28v28h-28zM1791.9 478.5h28v28h-28zM1795.2 471.9h28v28h-28zM1798.5 468.6h28v28h-28zM1805.1 462h28v28h-28zM1808.4 455.4h28v28h-28zM1815 452.1h28v28h-28zM1818.3 445.5h28v28h-28zM1821.6 442.2h28v28h-28zM1828.2 435.6h28v28h-28zM1831.5 429h28v28h-28zM1834.8 425.7h28v28h-28zM1841.4 419.1h28v28h-28zM1844.7 412.5h28v28h-28zM1851.3 409.2h28v28h-28zM1854.6 405.9h28v28h-28zM1861.2 399.3h28v28h-28zM1864.5 392.7h28v28h-28zM1871.1 389.4h28v28h-28zM1874.4 386.1h28v28h-28zM1881 379.5h28v28h-28zM1887.6 376.2h28v28h-28zM1890.9 372.9h28v28h-28zM1897.5 366.3h28v28h-28zM1904.1 363h28v28h-28zM1907.4 359.7h28v28h-28zM1914 356.4h28v28h-28zM1917.3 353.1h28v28h-28z"/>
</g>
<g filter="url(#soft)">
<rect x="1526.5" y="1024.5" width="624" height="500" fill="#fff" stroke="#050505" stroke-width="7"/>
<path d="M1570 1191L1718 1191" stroke="#505050" stroke-width="6" fill="none"/>
<rect x="1611" y="1158" width="62" height="66" fill="#606060"/>
<path d="M1570 1418L1718 1418" stroke="#f33" stroke-width="6" fill="none"/>
<rect x="1611" y="1385" width="62" height="66" fill="#ff0000"/>
<text class="serif" x="1768" y="1207" font-size="58" textLength="266" lengthAdjust="spacingAndGlyphs" fill="#2a2a2a" stroke="#2a2a2a" stroke-width="0.8">Experiment</text>
<text class="serif" x="1770" y="1423" font-size="58" textLength="247" lengthAdjust="spacingAndGlyphs" fill="#2a2a2a" stroke="#2a2a2a" stroke-width="0.8">Simulation</text>
</g>
<g filter="url(#soft)">
<text class="serif" x="1165" y="2012.5" font-size="108" textLength="349" lengthAdjust="spacingAndGlyphs" fill="#141414" stroke="#141414" stroke-width="1.2">Time (s)</text>
<text class="serif" transform="translate(105.6 1319) rotate(-90)" font-size="110" textLength="690" lengthAdjust="spacingAndGlyphs" fill="#141414" stroke="#141414" stroke-width="1.2">Temperature (K)</text>
</g>
<text class="serif" x="1111" y="2175" font-size="82" fill="#000">(<tspan font-weight="bold">a</tspan>)</text>
<g filter="url(#softax)">
<path d="M425 2288L425 4025.5" stroke="#4c4c4c" stroke-width="5" fill="none"/>
<path d="M396 4023L2277 4023" stroke="#3e3e3e" stroke-width="6" fill="none"/>
<path d="M397 4023.0L425 4023.0" stroke="#4c4c4c" stroke-width="4" fill="none"/>
<path d="M409 3899.2L425 3899.2" stroke="#4c4c4c" stroke-width="4" fill="none"/>
<path d="M397 3775.4L425 3775.4" stroke="#4c4c4c" stroke-width="4" fill="none"/>
<path d="M409 3651.6L425 3651.6" stroke="#4c4c4c" stroke-width="4" fill="none"/>
<path d="M397 3527.9L425 3527.9" stroke="#4c4c4c" stroke-width="4" fill="none"/>
<path d="M409 3404.1L425 3404.1" stroke="#4c4c4c" stroke-width="4" fill="none"/>
<path d="M397 3280.3L425 3280.3" stroke="#4c4c4c" stroke-width="4" fill="none"/>
<path d="M409 3156.5L425 3156.5" stroke="#4c4c4c" stroke-width="4" fill="none"/>
<path d="M397 3032.7L425 3032.7" stroke="#4c4c4c" stroke-width="4" fill="none"/>
<path d="M409 2908.9L425 2908.9" stroke="#4c4c4c" stroke-width="4" fill="none"/>
<path d="M397 2785.1L425 2785.1" stroke="#4c4c4c" stroke-width="4" fill="none"/>
<path d="M409 2661.4L425 2661.4" stroke="#4c4c4c" stroke-width="4" fill="none"/>
<path d="M397 2537.6L425 2537.6" stroke="#4c4c4c" stroke-width="4" fill="none"/>
<path d="M409 2413.8L425 2413.8" stroke="#4c4c4c" stroke-width="4" fill="none"/>
<path d="M397 2290.0L425 2290.0" stroke="#4c4c4c" stroke-width="4" fill="none"/>
<path d="M424 4023L424 4049" stroke="#3e3e3e" stroke-width="4.2" fill="none"/>
<path d="M638.7 4023L638.7 4049" stroke="#3e3e3e" stroke-width="4.2" fill="none"/>
<path d="M862 4023L862 4049" stroke="#3e3e3e" stroke-width="4.2" fill="none"/>
<path d="M1079.6 4023L1079.6 4049" stroke="#3e3e3e" stroke-width="4.2" fill="none"/>
<path d="M1295.6 4023L1295.6 4049" stroke="#3e3e3e" stroke-width="4.2" fill="none"/>
<path d="M1513.7 4023L1513.7 4049" stroke="#3e3e3e" stroke-width="4.2" fill="none"/>
<path d="M1731 4023L1731 4049" stroke="#3e3e3e" stroke-width="4.2" fill="none"/>
<path d="M1949 4023L1949 4049" stroke="#3e3e3e" stroke-width="4.2" fill="none"/>
<path d="M2166.6 4023L2166.6 4049" stroke="#3e3e3e" stroke-width="4.2" fill="none"/>
<path d="M531.4 4023L531.4 4035" stroke="#4c4c4c" stroke-width="4.2" fill="none"/>
<path d="M750.4 4023L750.4 4035" stroke="#4c4c4c" stroke-width="4.2" fill="none"/>
<path d="M970.8 4023L970.8 4035" stroke="#4c4c4c" stroke-width="4.2" fill="none"/>
<path d="M1187.6 4023L1187.6 4035" stroke="#4c4c4c" stroke-width="4.2" fill="none"/>
<path d="M1404.7 4023L1404.7 4035" stroke="#4c4c4c" stroke-width="4.2" fill="none"/>
<path d="M1622.3 4023L1622.3 4035" stroke="#4c4c4c" stroke-width="4.2" fill="none"/>
<path d="M1840.0 4023L1840.0 4035" stroke="#4c4c4c" stroke-width="4.2" fill="none"/>
<path d="M2057.8 4023L2057.8 4035" stroke="#4c4c4c" stroke-width="4.2" fill="none"/>
<path d="M2274.5 4023L2274.5 4035" stroke="#4c4c4c" stroke-width="4.2" fill="none"/>
</g>
<g filter="url(#softlb)">
<text x="281" y="4047.5" font-size="71.2" textLength="95" lengthAdjust="spacingAndGlyphs" fill="#666666">285</text>
<text x="281" y="3799.9" font-size="71.2" textLength="95" lengthAdjust="spacingAndGlyphs" fill="#666666">290</text>
<text x="281" y="3552.4" font-size="71.2" textLength="95" lengthAdjust="spacingAndGlyphs" fill="#666666">295</text>
<text x="281" y="3304.8" font-size="71.2" textLength="95" lengthAdjust="spacingAndGlyphs" fill="#666666">300</text>
<text x="281" y="3057.2" font-size="71.2" textLength="95" lengthAdjust="spacingAndGlyphs" fill="#666666">305</text>
<text x="281" y="2809.6" font-size="71.2" textLength="95" lengthAdjust="spacingAndGlyphs" fill="#666666">310</text>
<text x="281" y="2562.1" font-size="71.2" textLength="95" lengthAdjust="spacingAndGlyphs" fill="#666666">315</text>
<text x="281" y="2314.5" font-size="71.2" textLength="95" lengthAdjust="spacingAndGlyphs" fill="#666666">320</text>
<ellipse cx="408.5" cy="4143.5" rx="3.6" ry="6" fill="#e8801e" transform="rotate(20 408.5 4143.5)"/>
<ellipse cx="413.5" cy="4141.0" rx="3.6" ry="6" fill="#1d6fe0" transform="rotate(20 413.5 4141.0)"/>
<text y="4139" font-size="69.8" fill="#383838"><tspan x="343" textLength="64.5" lengthAdjust="spacingAndGlyphs">−1</tspan><tspan x="405.0" y="4140" font-size="53.1" font-weight="bold" fill="#08080c" stroke="#08080c" stroke-width="1.5">,</tspan><tspan x="407.5" y="4139" textLength="94.5" lengthAdjust="spacingAndGlyphs">000</tspan></text>
<text x="627" y="4139" font-size="69.8" textLength="29" lengthAdjust="spacingAndGlyphs" fill="#383838">0</text>
<ellipse cx="829.8" cy="4143.5" rx="3.6" ry="6" fill="#e8801e" transform="rotate(20 829.8 4143.5)"/>
<ellipse cx="834.8" cy="4141.0" rx="3.6" ry="6" fill="#1d6fe0" transform="rotate(20 834.8 4141.0)"/>
<text y="4139" font-size="69.8" fill="#383838"><tspan x="796" textLength="32.8" lengthAdjust="spacingAndGlyphs">1</tspan><tspan x="826.2" y="4140" font-size="53.1" font-weight="bold" fill="#08080c" stroke="#08080c" stroke-width="1.5">,</tspan><tspan x="828.8" y="4139" textLength="98.2" lengthAdjust="spacingAndGlyphs">000</tspan></text>
<ellipse cx="1044.5" cy="4143.5" rx="3.6" ry="6" fill="#e8801e" transform="rotate(20 1044.5 4143.5)"/>
<ellipse cx="1049.5" cy="4141.0" rx="3.6" ry="6" fill="#1d6fe0" transform="rotate(20 1049.5 4141.0)"/>
<text y="4139" font-size="69.8" fill="#383838"><tspan x="1011" textLength="32.5" lengthAdjust="spacingAndGlyphs">2</tspan><tspan x="1041.0" y="4140" font-size="53.1" font-weight="bold" fill="#08080c" stroke="#08080c" stroke-width="1.5">,</tspan><tspan x="1043.5" y="4139" textLength="97.5" lengthAdjust="spacingAndGlyphs">000</tspan></text>
<ellipse cx="1266.0" cy="4143.5" rx="3.6" ry="6" fill="#e8801e" transform="rotate(20 1266.0 4143.5)"/>
<ellipse cx="1271.0" cy="4141.0" rx="3.6" ry="6" fill="#1d6fe0" transform="rotate(20 1271.0 4141.0)"/>
<text y="4139" font-size="69.8" fill="#383838"><tspan x="1233" textLength="32.0" lengthAdjust="spacingAndGlyphs">3</tspan><tspan x="1262.5" y="4140" font-size="53.1" font-weight="bold" fill="#08080c" stroke="#08080c" stroke-width="1.5">,</tspan><tspan x="1265.0" y="4139" textLength="96.0" lengthAdjust="spacingAndGlyphs">000</tspan></text>
<ellipse cx="1486.5" cy="4143.5" rx="3.6" ry="6" fill="#e8801e" transform="rotate(20 1486.5 4143.5)"/>
<ellipse cx="1491.5" cy="4141.0" rx="3.6" ry="6" fill="#1d6fe0" transform="rotate(20 1491.5 4141.0)"/>
<text y="4139" font-size="69.8" fill="#383838"><tspan x="1453" textLength="32.5" lengthAdjust="spacingAndGlyphs">4</tspan><tspan x="1483.0" y="4140" font-size="53.1" font-weight="bold" fill="#08080c" stroke="#08080c" stroke-width="1.5">,</tspan><tspan x="1485.5" y="4139" textLength="97.5" lengthAdjust="spacingAndGlyphs">000</tspan></text>
<ellipse cx="1701.2" cy="4143.5" rx="3.6" ry="6" fill="#e8801e" transform="rotate(20 1701.2 4143.5)"/>
<ellipse cx="1706.2" cy="4141.0" rx="3.6" ry="6" fill="#1d6fe0" transform="rotate(20 1706.2 4141.0)"/>
<text y="4139" font-size="69.8" fill="#383838"><tspan x="1667" textLength="33.2" lengthAdjust="spacingAndGlyphs">5</tspan><tspan x="1697.8" y="4140" font-size="53.1" font-weight="bold" fill="#08080c" stroke="#08080c" stroke-width="1.5">,</tspan><tspan x="1700.2" y="4139" textLength="99.8" lengthAdjust="spacingAndGlyphs">000</tspan></text>
<ellipse cx="1917.2" cy="4143.5" rx="3.6" ry="6" fill="#e8801e" transform="rotate(20 1917.2 4143.5)"/>
<ellipse cx="1922.2" cy="4141.0" rx="3.6" ry="6" fill="#1d6fe0" transform="rotate(20 1922.2 4141.0)"/>
<text y="4139" font-size="69.8" fill="#383838"><tspan x="1885" textLength="31.2" lengthAdjust="spacingAndGlyphs">6</tspan><tspan x="1913.8" y="4140" font-size="53.1" font-weight="bold" fill="#08080c" stroke="#08080c" stroke-width="1.5">,</tspan><tspan x="1916.2" y="4139" textLength="93.8" lengthAdjust="spacingAndGlyphs">000</tspan></text>
<ellipse cx="2140.5" cy="4143.5" rx="3.6" ry="6" fill="#e8801e" transform="rotate(20 2140.5 4143.5)"/>
<ellipse cx="2145.5" cy="4141.0" rx="3.6" ry="6" fill="#1d6fe0" transform="rotate(20 2145.5 4141.0)"/>
<text y="4139" font-size="69.8" fill="#383838"><tspan x="2106" textLength="33.5" lengthAdjust="spacingAndGlyphs">7</tspan><tspan x="2137.0" y="4140" font-size="53.1" font-weight="bold" fill="#08080c" stroke="#08080c" stroke-width="1.5">,</tspan><tspan x="2139.5" y="4139" textLength="100.5" lengthAdjust="spacingAndGlyphs">000</tspan></text>
</g>
<g filter="url(#soft2)">
<path fill="#464646" d="M627 3851.1h27v27h-27zM630.3 3841.2h27v27h-27zM630.3 3837.9h27v27h-27zM633.6 3831.3h27v27h-27zM636.9 3828h27v27h-27zM640.2 3821.4h27v27h-27zM640.2 3814.8h27v27h-27zM643.5 3811.5h27v27h-27zM646.8 3804.9h27v27h-27zM646.8 3801.6h27v27h-27zM653.4 3795h27v27h-27zM653.4 3788.4h27v27h-27zM656.7 3785.1h27v27h-27zM656.7 3778.5h27v27h-27zM656.7 3768.6h27v27h-27zM660 3765.3h27v27h-27zM656.7 3758.7h27v27h-27zM663.3 3752.1h27v27h-27zM663.3 3748.8h27v27h-27zM663.3 3738.9h27v27h-27zM663.3 3735.6h27v27h-27zM666.6 3729h27v27h-27zM666.6 3725.7h27v27h-27zM669.9 3715.8h27v27h-27zM669.9 3712.5h27v27h-27zM673.2 3705.9h27v27h-27zM673.2 3699.3h27v27h-27zM673.2 3692.7h27v27h-27zM673.2 3689.4h27v27h-27zM676.5 3682.8h27v27h-27zM676.5 3676.2h27v27h-27zM676.5 3669.6h27v27h-27zM683.1 3663h27v27h-27zM679.8 3659.7h27v27h-27zM683.1 3653.1h27v27h-27zM683.1 3646.5h27v27h-27zM683.1 3639.9h27v27h-27zM683.1 3636.6h27v27h-27zM689.7 3630h27v27h-27zM689.7 3623.4h27v27h-27zM689.7 3616.8h27v27h-27zM693 3613.5h27v27h-27zM693 3606.9h27v27h-27zM693 3597h27v27h-27zM693 3593.7h27v27h-27zM693 3587.1h27v27h-27zM696.3 3583.8h27v27h-27zM699.6 3577.2h27v27h-27zM699.6 3570.6h27v27h-27zM699.6 3564h27v27h-27zM699.6 3560.7h27v27h-27zM702.9 3554.1h27v27h-27zM706.2 3550.8h27v27h-27zM706.2 3540.9h27v27h-27zM709.5 3534.3h27v27h-27zM712.8 3531h27v27h-27zM709.5 3524.4h27v27h-27zM712.8 3517.8h27v27h-27zM716.1 3514.5h27v27h-27zM719.4 3504.6h27v27h-27zM719.4 3501.3h27v27h-27zM719.4 3498h27v27h-27zM719.4 3488.1h27v27h-27zM726 3484.8h27v27h-27zM726 3478.2h27v27h-27zM726 3474.9h27v27h-27zM726 3465h27v27h-27zM729.3 3461.7h27v27h-27zM732.6 3455.1h27v27h-27zM732.6 3448.5h27v27h-27zM735.9 3441.9h27v27h-27zM739.2 3438.6h27v27h-27zM739.2 3435.3h27v27h-27zM742.5 3428.7h27v27h-27zM745.8 3422.1h27v27h-27zM745.8 3415.5h27v27h-27zM745.8 3412.2h27v27h-27zM752.4 3405.6h27v27h-27zM752.4 3399h27v27h-27zM755.7 3392.4h27v27h-27zM755.7 3385.8h27v27h-27zM755.7 3379.2h27v27h-27zM759 3375.9h27v27h-27zM759 3372.6h27v27h-27zM762.3 3362.7h27v27h-27zM762.3 3359.4h27v27h-27zM765.6 3352.8h27v27h-27zM765.6 3346.2h27v27h-27zM768.9 3342.9h27v27h-27zM768.9 3336.3h27v27h-27zM768.9 3333h27v27h-27zM775.5 3323.1h27v27h-27zM775.5 3316.5h27v27h-27zM775.5 3309.9h27v27h-27zM778.8 3309.9h27v27h-27zM782.1 3303.3h27v27h-27zM782.1 3293.4h27v27h-27zM785.4 3286.8h27v27h-27zM788.7 3283.5h27v27h-27zM788.7 3276.9h27v27h-27zM792 3273.6h27v27h-27zM788.7 3263.7h27v27h-27zM795.3 3260.4h27v27h-27zM795.3 3253.8h27v27h-27zM798.6 3247.2h27v27h-27zM798.6 3243.9h27v27h-27zM798.6 3240.6h27v27h-27zM801.9 3230.7h27v27h-27zM801.9 3224.1h27v27h-27zM805.2 3220.8h27v27h-27zM808.5 3214.2h27v27h-27zM811.8 3210.9h27v27h-27zM811.8 3204.3h27v27h-27zM811.8 3197.7h27v27h-27zM818.4 3191.1h27v27h-27zM818.4 3184.5h27v27h-27zM821.7 3181.2h27v27h-27zM825 3177.9h27v27h-27zM825 3168h27v27h-27zM828.3 3164.7h27v27h-27zM831.6 3158.1h27v27h-27zM831.6 3154.8h27v27h-27zM834.9 3148.2h27v27h-27zM834.9 3144.9h27v27h-27zM838.2 3138.3h27v27h-27zM841.5 3131.7h27v27h-27zM844.8 3128.4h27v27h-27zM851.4 3125.1h27v27h-27zM851.4 3118.5h27v27h-27zM854.7 3111.9h27v27h-27zM854.7 3108.6h27v27h-27zM861.3 3102h27v27h-27zM864.6 3095.4h27v27h-27zM867.9 3088.8h27v27h-27zM871.2 3085.5h27v27h-27zM871.2 3078.9h27v27h-27zM874.5 3075.6h27v27h-27zM877.8 3069h27v27h-27zM884.4 3065.7h27v27h-27zM884.4 3062.4h27v27h-27zM891 3055.8h27v27h-27zM894.3 3049.2h27v27h-27zM900.9 3049.2h27v27h-27zM897.6 3039.3h27v27h-27zM904.2 3036h27v27h-27zM907.5 3029.4h27v27h-27zM910.8 3026.1h27v27h-27zM914.1 3026.1h27v27h-27zM917.4 3019.5h27v27h-27zM924 3009.6h27v27h-27zM927.3 3009.6h27v27h-27zM930.6 3003h27v27h-27zM933.9 2999.7h27v27h-27zM937.2 2996.4h27v27h-27zM943.8 2989.8h27v27h-27zM943.8 2983.2h27v27h-27zM947.1 2983.2h27v27h-27zM953.7 2976.6h27v27h-27zM957 2973.3h27v27h-27zM957 2966.7h27v27h-27zM966.9 2963.4h27v27h-27zM963.6 2956.8h27v27h-27zM970.2 2950.2h27v27h-27zM976.8 2943.6h27v27h-27zM980.1 2943.6h27v27h-27zM980.1 2937h27v27h-27zM990 2937h27v27h-27zM996.6 2933.7h27v27h-27zM999.9 2930.4h27v27h-27zM1006.5 2923.8h27v27h-27zM1009.8 2920.5h27v27h-27zM1016.4 2917.2h27v27h-27zM1019.7 2920.5h27v27h-27zM1026.3 2913.9h27v27h-27zM1029.6 2910.6h27v27h-27zM1036.2 2907.3h27v27h-27zM1039.5 2904h27v27h-27zM1042.8 2900.7h27v27h-27zM1052.7 2897.4h27v27h-27zM1052.7 2894.1h27v27h-27zM1059.3 2887.5h27v27h-27zM1062.6 2884.2h27v27h-27zM1065.9 2880.9h27v27h-27zM1072.5 2877.6h27v27h-27zM1075.8 2874.3h27v27h-27zM1082.4 2871h27v27h-27zM1085.7 2867.7h27v27h-27zM1089 2864.4h27v27h-27zM1095.6 2857.8h27v27h-27zM1098.9 2854.5h27v27h-27zM1102.2 2847.9h27v27h-27zM1108.8 2847.9h27v27h-27zM1112.1 2844.6h27v27h-27zM1115.4 2841.3h27v27h-27zM1125.3 2834.7h27v27h-27zM1128.6 2834.7h27v27h-27zM1131.9 2834.7h27v27h-27zM1138.5 2828.1h27v27h-27zM1141.8 2821.5h27v27h-27zM1151.7 2821.5h27v27h-27zM1151.7 2818.2h27v27h-27zM1158.3 2818.2h27v27h-27zM1161.6 2808.3h27v27h-27zM1171.5 2808.3h27v27h-27zM1171.5 2801.7h27v27h-27zM1174.8 2798.4h27v27h-27zM1181.4 2795.1h27v27h-27zM1188 2791.8h27v27h-27zM1191.3 2788.5h27v27h-27zM1197.9 2785.2h27v27h-27zM1201.2 2781.9h27v27h-27zM1207.8 2775.3h27v27h-27zM1214.4 2772h27v27h-27zM1217.7 2775.3h27v27h-27zM1221 2772h27v27h-27zM1227.6 2768.7h27v27h-27zM1234.2 2768.7h27v27h-27zM1240.8 2762.1h27v27h-27zM1244.1 2762.1h27v27h-27zM1250.7 2758.8h27v27h-27zM1254 2758.8h27v27h-27zM1260.6 2755.5h27v27h-27zM1267.2 2758.8h27v27h-27zM1270.5 2758.8h27v27h-27zM1273.8 2765.4h27v27h-27zM1277.1 2768.7h27v27h-27zM1280.4 2772h27v27h-27zM1287 2778.6h27v27h-27zM1290.3 2788.5h27v27h-27zM1290.3 2788.5h27v27h-27zM1290.3 2798.4h27v27h-27zM1290.3 2798.4h27v27h-27zM1296.9 2808.3h27v27h-27zM1300.2 2814.9h27v27h-27zM1300.2 2821.5h27v27h-27zM1303.5 2824.8h27v27h-27zM1306.8 2828.1h27v27h-27zM1306.8 2834.7h27v27h-27zM1310.1 2844.6h27v27h-27zM1316.7 2844.6h27v27h-27zM1313.4 2851.2h27v27h-27zM1320 2857.8h27v27h-27zM1323.3 2864.4h27v27h-27zM1326.6 2867.7h27v27h-27zM1326.6 2874.3h27v27h-27zM1333.2 2877.6h27v27h-27zM1333.2 2884.2h27v27h-27zM1333.2 2887.5h27v27h-27zM1339.8 2897.4h27v27h-27zM1339.8 2897.4h27v27h-27zM1346.4 2907.3h27v27h-27zM1346.4 2913.9h27v27h-27zM1349.7 2913.9h27v27h-27zM1349.7 2920.5h27v27h-27zM1353 2927.1h27v27h-27zM1353 2930.4h27v27h-27zM1359.6 2937h27v27h-27zM1359.6 2946.9h27v27h-27zM1362.9 2946.9h27v27h-27zM1366.2 2956.8h27v27h-27zM1366.2 2960.1h27v27h-27zM1369.5 2963.4h27v27h-27zM1376.1 2970h27v27h-27zM1379.4 2973.3h27v27h-27zM1379.4 2979.9h27v27h-27zM1382.7 2986.5h27v27h-27zM1386 2993.1h27v27h-27zM1389.3 2996.4h27v27h-27zM1392.6 2996.4h27v27h-27zM1399.2 3003h27v27h-27zM1399.2 3006.3h27v27h-27zM1405.8 3016.2h27v27h-27zM1409.1 3019.5h27v27h-27zM1412.4 3019.5h27v27h-27zM1419 3026.1h27v27h-27zM1425.6 3029.4h27v27h-27zM1425.6 3032.7h27v27h-27zM1428.9 3039.3h27v27h-27zM1435.5 3039.3h27v27h-27zM1438.8 3045.9h27v27h-27zM1442.1 3052.5h27v27h-27zM1448.7 3059.1h27v27h-27zM1448.7 3062.4h27v27h-27zM1452 3065.7h27v27h-27zM1458.6 3075.6h27v27h-27zM1455.3 3078.9h27v27h-27zM1461.9 3082.2h27v27h-27zM1461.9 3092.1h27v27h-27zM1465.2 3095.4h27v27h-27zM1465.2 3098.7h27v27h-27zM1471.8 3102h27v27h-27zM1475.1 3108.6h27v27h-27zM1481.7 3111.9h27v27h-27zM1485 3108.6h27v27h-27zM1491.6 3108.6h27v27h-27zM1501.5 3111.9h27v27h-27zM1504.8 3111.9h27v27h-27zM1511.4 3115.2h27v27h-27zM1514.7 3115.2h27v27h-27zM1518 3118.5h27v27h-27zM1527.9 3111.9h27v27h-27zM1531.2 3111.9h27v27h-27zM1537.8 3108.6h27v27h-27zM1544.4 3105.3h27v27h-27zM1547.7 3105.3h27v27h-27zM1551 3098.7h27v27h-27zM1560.9 3092.1h27v27h-27zM1560.9 3092.1h27v27h-27zM1567.5 3085.5h27v27h-27zM1570.8 3085.5h27v27h-27zM1574.1 3082.2h27v27h-27zM1577.4 3078.9h27v27h-27zM1584 3069h27v27h-27zM1587.3 3062.4h27v27h-27zM1593.9 3062.4h27v27h-27zM1600.5 3059.1h27v27h-27zM1600.5 3052.5h27v27h-27zM1607.1 3049.2h27v27h-27zM1613.7 3042.6h27v27h-27zM1613.7 3042.6h27v27h-27zM1617 3039.3h27v27h-27zM1620.3 3032.7h27v27h-27zM1626.9 3026.1h27v27h-27zM1630.2 3019.5h27v27h-27zM1630.2 3022.8h27v27h-27zM1636.8 3016.2h27v27h-27zM1640.1 3009.6h27v27h-27zM1643.4 3006.3h27v27h-27zM1646.7 2996.4h27v27h-27zM1653.3 2993.1h27v27h-27zM1653.3 2993.1h27v27h-27zM1659.9 2986.5h27v27h-27zM1669.8 2986.5h27v27h-27zM1673.1 2983.2h27v27h-27zM1669.8 2973.3h27v27h-27zM1673.1 2970h27v27h-27zM1683 2963.4h27v27h-27zM1686.3 2963.4h27v27h-27zM1692.9 2953.5h27v27h-27zM1699.5 2950.2h27v27h-27zM1699.5 2946.9h27v27h-27zM1699.5 2946.9h27v27h-27zM1709.4 2943.6h27v27h-27zM1709.4 2933.7h27v27h-27zM1712.7 2930.4h27v27h-27zM1719.3 2927.1h27v27h-27zM1719.3 2920.5h27v27h-27zM1729.2 2917.2h27v27h-27zM1735.8 2913.9h27v27h-27zM1739.1 2907.3h27v27h-27zM1739.1 2907.3h27v27h-27zM1742.4 2897.4h27v27h-27zM1752.3 2897.4h27v27h-27zM1749 2887.5h27v27h-27zM1758.9 2887.5h27v27h-27zM1755.6 2880.9h27v27h-27zM1762.2 2880.9h27v27h-27zM1765.5 2877.6h27v27h-27zM1775.4 2864.4h27v27h-27zM1778.7 2864.4h27v27h-27zM1782 2861.1h27v27h-27zM1782 2851.2h27v27h-27zM1791.9 2851.2h27v27h-27zM1795.2 2847.9h27v27h-27zM1798.5 2844.6h27v27h-27zM1798.5 2834.7h27v27h-27zM1798.5 2834.7h27v27h-27zM1805.1 2828.1h27v27h-27zM1811.7 2818.2h27v27h-27zM1815 2814.9h27v27h-27zM1818.3 2814.9h27v27h-27zM1818.3 2808.3h27v27h-27zM1828.2 2805h27v27h-27zM1828.2 2795.1h27v27h-27zM1828.2 2791.8h27v27h-27zM1834.8 2785.2h27v27h-27zM1838.1 2781.9h27v27h-27zM1844.7 2781.9h27v27h-27zM1844.7 2772h27v27h-27zM1848 2768.7h27v27h-27zM1857.9 2762.1h27v27h-27zM1854.6 2762.1h27v27h-27zM1857.9 2755.5h27v27h-27zM1864.5 2755.5h27v27h-27zM1867.8 2748.9h27v27h-27zM1871.1 2742.3h27v27h-27zM1877.7 2735.7h27v27h-27zM1884.3 2735.7h27v27h-27zM1881 2725.8h27v27h-27zM1887.6 2722.5h27v27h-27zM1887.6 2719.2h27v27h-27zM1894.2 2715.9h27v27h-27zM1900.8 2706h27v27h-27zM1904.1 2706h27v27h-27zM1907.4 2699.4h27v27h-27zM1907.4 2692.8h27v27h-27zM1920.6 2696.1h27v27h-27zM1917.3 2689.5h27v27h-27zM1927.2 2682.9h27v27h-27zM1923.9 2679.6h27v27h-27zM1930.5 2673h27v27h-27zM1937.1 2666.4h27v27h-27zM1943.7 2666.4h27v27h-27zM1943.7 2666.4h27v27h-27zM1950.3 2653.2h27v27h-27zM1950.3 2649.9h27v27h-27zM1950.3 2649.9h27v27h-27zM1960.2 2640h27v27h-27zM1960.2 2636.7h27v27h-27zM1966.8 2636.7h27v27h-27zM1966.8 2630.1h27v27h-27zM1973.4 2623.5h27v27h-27zM1973.4 2613.6h27v27h-27zM1980 2610.3h27v27h-27zM1980 2607h27v27h-27zM1983.3 2603.7h27v27h-27zM1986.6 2593.8h27v27h-27zM1989.9 2590.5h27v27h-27zM1993.2 2587.2h27v27h-27zM1996.5 2580.6h27v27h-27zM1999.8 2574h27v27h-27zM1999.8 2570.7h27v27h-27zM2003.1 2564.1h27v27h-27zM2006.4 2557.5h27v27h-27zM2009.7 2554.2h27v27h-27zM2009.7 2547.6h27v27h-27zM2013 2541h27v27h-27zM2016.3 2534.4h27v27h-27zM2016.3 2531.1h27v27h-27zM2019.6 2524.5h27v27h-27zM2019.6 2521.2h27v27h-27zM2022.9 2514.6h27v27h-27zM2022.9 2508h27v27h-27zM2026.2 2504.7h27v27h-27zM2029.5 2494.8h27v27h-27zM2029.5 2491.5h27v27h-27zM2032.8 2488.2h27v27h-27zM2039.4 2484.9h27v27h-27zM2042.7 2488.2h27v27h-27z"/>
<path fill="#ff3131" d="M627 3606.9h28v28h-28zM627 3600.3h28v28h-28zM630.3 3593.7h28v28h-28zM630.3 3583.8h28v28h-28zM630.3 3577.2h28v28h-28zM630.3 3570.6h28v28h-28zM633.6 3564h28v28h-28zM633.6 3557.4h28v28h-28zM633.6 3550.8h28v28h-28zM633.6 3544.2h28v28h-28zM636.9 3537.6h28v28h-28zM636.9 3531h28v28h-28zM636.9 3521.1h28v28h-28zM636.9 3514.5h28v28h-28zM640.2 3507.9h28v28h-28zM640.2 3501.3h28v28h-28zM643.5 3494.7h28v28h-28zM643.5 3488.1h28v28h-28zM643.5 3481.5h28v28h-28zM646.8 3474.9h28v28h-28zM646.8 3468.3h28v28h-28zM650.1 3461.7h28v28h-28zM650.1 3455.1h28v28h-28zM653.4 3445.2h28v28h-28zM653.4 3438.6h28v28h-28zM656.7 3435.3h28v28h-28zM656.7 3428.7h28v28h-28zM660 3418.8h28v28h-28zM660 3412.2h28v28h-28zM663.3 3405.6h28v28h-28zM663.3 3399h28v28h-28zM666.6 3392.4h28v28h-28zM666.6 3385.8h28v28h-28zM669.9 3379.2h28v28h-28zM669.9 3372.6h28v28h-28zM673.2 3366h28v28h-28zM673.2 3359.4h28v28h-28zM676.5 3352.8h28v28h-28zM676.5 3346.2h28v28h-28zM679.8 3339.6h28v28h-28zM679.8 3333h28v28h-28zM683.1 3326.4h28v28h-28zM683.1 3319.8h28v28h-28zM686.4 3309.9h28v28h-28zM686.4 3303.3h28v28h-28zM689.7 3296.7h28v28h-28zM689.7 3290.1h28v28h-28zM693 3283.5h28v28h-28zM693 3276.9h28v28h-28zM696.3 3270.3h28v28h-28zM696.3 3263.7h28v28h-28zM699.6 3257.1h28v28h-28zM699.6 3250.5h28v28h-28zM702.9 3243.9h28v28h-28zM702.9 3237.3h28v28h-28zM706.2 3230.7h28v28h-28zM706.2 3224.1h28v28h-28zM709.5 3214.2h28v28h-28zM709.5 3207.6h28v28h-28zM712.8 3204.3h28v28h-28zM716.1 3194.4h28v28h-28zM716.1 3187.8h28v28h-28zM719.4 3181.2h28v28h-28zM719.4 3174.6h28v28h-28zM722.7 3168h28v28h-28zM722.7 3161.4h28v28h-28zM726 3154.8h28v28h-28zM726 3148.2h28v28h-28zM729.3 3141.6h28v28h-28zM732.6 3135h28v28h-28zM732.6 3128.4h28v28h-28zM735.9 3121.8h28v28h-28zM739.2 3115.2h28v28h-28zM742.5 3108.6h28v28h-28zM742.5 3102h28v28h-28zM745.8 3095.4h28v28h-28zM749.1 3088.8h28v28h-28zM752.4 3082.2h28v28h-28zM752.4 3075.6h28v28h-28zM755.7 3069h28v28h-28zM759 3062.4h28v28h-28zM762.3 3055.8h28v28h-28zM762.3 3049.2h28v28h-28zM765.6 3042.6h28v28h-28zM768.9 3036h28v28h-28zM772.2 3032.7h28v28h-28zM775.5 3026.1h28v28h-28zM778.8 3019.5h28v28h-28zM782.1 3012.9h28v28h-28zM785.4 3006.3h28v28h-28zM788.7 2999.7h28v28h-28zM795.3 2996.4h28v28h-28zM798.6 2989.8h28v28h-28zM801.9 2983.2h28v28h-28zM805.2 2976.6h28v28h-28zM808.5 2973.3h28v28h-28zM815.1 2966.7h28v28h-28zM818.4 2960.1h28v28h-28zM825 2956.8h28v28h-28zM828.3 2950.2h28v28h-28zM834.9 2946.9h28v28h-28zM838.2 2940.3h28v28h-28zM844.8 2937h28v28h-28zM848.1 2930.4h28v28h-28zM854.7 2927.1h28v28h-28zM861.3 2923.8h28v28h-28zM864.6 2917.2h28v28h-28zM871.2 2913.9h28v28h-28zM874.5 2910.6h28v28h-28zM881.1 2904h28v28h-28zM887.7 2900.7h28v28h-28zM891 2897.4h28v28h-28zM897.6 2894.1h28v28h-28zM904.2 2887.5h28v28h-28zM910.8 2884.2h28v28h-28zM917.4 2880.9h28v28h-28zM924 2877.6h28v28h-28zM927.3 2877.6h28v28h-28zM933.9 2871h28v28h-28zM940.5 2871h28v28h-28zM947.1 2867.7h28v28h-28zM953.7 2864.4h28v28h-28zM960.3 2861.1h28v28h-28zM966.9 2857.8h28v28h-28zM973.5 2857.8h28v28h-28zM980.1 2854.5h28v28h-28zM986.7 2851.2h28v28h-28zM993.3 2847.9h28v28h-28zM999.9 2844.6h28v28h-28zM1006.5 2841.3h28v28h-28zM1013.1 2841.3h28v28h-28zM1019.7 2838h28v28h-28zM1026.3 2834.7h28v28h-28zM1029.6 2831.4h28v28h-28zM1039.5 2828.1h28v28h-28zM1046.1 2824.8h28v28h-28zM1049.4 2821.5h28v28h-28zM1056 2818.2h28v28h-28zM1062.6 2818.2h28v28h-28zM1069.2 2814.9h28v28h-28zM1075.8 2811.6h28v28h-28zM1082.4 2811.6h28v28h-28zM1089 2808.3h28v28h-28zM1095.6 2805h28v28h-28zM1102.2 2801.7h28v28h-28zM1108.8 2801.7h28v28h-28zM1115.4 2798.4h28v28h-28zM1122 2795.1h28v28h-28zM1128.6 2791.8h28v28h-28zM1135.2 2791.8h28v28h-28zM1141.8 2785.2h28v28h-28zM1148.4 2785.2h28v28h-28zM1155 2781.9h28v28h-28zM1161.6 2778.6h28v28h-28zM1168.2 2775.3h28v28h-28zM1174.8 2772h28v28h-28zM1178.1 2768.7h28v28h-28zM1184.7 2765.4h28v28h-28zM1191.3 2762.1h28v28h-28zM1197.9 2758.8h28v28h-28zM1204.5 2755.5h28v28h-28zM1207.8 2748.9h28v28h-28zM1214.4 2745.6h28v28h-28zM1221 2739h28v28h-28zM1224.3 2735.7h28v28h-28zM1230.9 2732.4h28v28h-28zM1234.2 2725.8h28v28h-28zM1240.8 2722.5h28v28h-28zM1244.1 2719.2h28v28h-28zM1250.7 2712.6h28v28h-28zM1257.3 2709.3h28v28h-28zM1260.6 2715.9h28v28h-28zM1263.9 2722.5h28v28h-28zM1263.9 2729.1h28v28h-28zM1263.9 2735.7h28v28h-28zM1267.2 2742.3h28v28h-28zM1270.5 2748.9h28v28h-28zM1270.5 2755.5h28v28h-28zM1273.8 2762.1h28v28h-28zM1273.8 2768.7h28v28h-28zM1277.1 2775.3h28v28h-28zM1280.4 2781.9h28v28h-28zM1280.4 2788.5h28v28h-28zM1283.7 2795.1h28v28h-28zM1283.7 2801.7h28v28h-28zM1287 2808.3h28v28h-28zM1287 2814.9h28v28h-28zM1290.3 2821.5h28v28h-28zM1290.3 2831.4h28v28h-28zM1293.6 2834.7h28v28h-28zM1293.6 2844.6h28v28h-28zM1296.9 2847.9h28v28h-28zM1296.9 2857.8h28v28h-28zM1300.2 2864.4h28v28h-28zM1300.2 2871h28v28h-28zM1303.5 2877.6h28v28h-28zM1303.5 2884.2h28v28h-28zM1306.8 2890.8h28v28h-28zM1310.1 2897.4h28v28h-28zM1310.1 2904h28v28h-28zM1310.1 2910.6h28v28h-28zM1313.4 2917.2h28v28h-28zM1313.4 2923.8h28v28h-28zM1316.7 2930.4h28v28h-28zM1316.7 2940.3h28v28h-28zM1316.7 2943.6h28v28h-28zM1332.5 2984h29v29h-29zM1350 3022h29v29h-29zM1363.1 3059.5h29v29h-29zM1392.6 3108.6h28v28h-28zM1399.2 3105.3h28v28h-28zM1402.5 3098.7h28v28h-28zM1409.1 3095.4h28v28h-28zM1415.7 3088.8h28v28h-28zM1419 3085.5h28v28h-28zM1425.6 3082.2h28v28h-28zM1432.2 3078.9h28v28h-28zM1438.8 3078.9h28v28h-28zM1445.4 3075.6h28v28h-28zM1452 3072.3h28v28h-28zM1458.6 3072.3h28v28h-28zM1465.2 3072.3h28v28h-28zM1471.8 3069h28v28h-28zM1481.7 3069h28v28h-28zM1488.3 3069h28v28h-28zM1494.9 3065.7h28v28h-28zM1501.5 3065.7h28v28h-28zM1508.1 3062.4h28v28h-28zM1514.7 3059.1h28v28h-28zM1518 3055.8h28v28h-28zM1524.6 3052.5h28v28h-28zM1531.2 3045.9h28v28h-28zM1537.8 3042.6h28v28h-28zM1541.1 3039.3h28v28h-28zM1547.7 3032.7h28v28h-28zM1551 3029.4h28v28h-28zM1557.6 3022.8h28v28h-28zM1560.9 3016.2h28v28h-28zM1564.2 3012.9h28v28h-28zM1570.8 3006.3h28v28h-28zM1574.1 3003h28v28h-28zM1577.4 2996.4h28v28h-28zM1580.7 2989.8h28v28h-28zM1584 2983.2h28v28h-28zM1587.3 2976.6h28v28h-28zM1593.9 2973.3h28v28h-28zM1597.2 2966.7h28v28h-28zM1600.5 2960.1h28v28h-28zM1603.8 2953.5h28v28h-28zM1607.1 2946.9h28v28h-28zM1610.4 2940.3h28v28h-28zM1613.7 2937h28v28h-28zM1617 2930.4h28v28h-28zM1620.3 2923.8h28v28h-28zM1623.6 2917.2h28v28h-28zM1626.9 2910.6h28v28h-28zM1630.2 2904h28v28h-28zM1633.5 2897.4h28v28h-28zM1636.8 2894.1h28v28h-28zM1640.1 2887.5h28v28h-28zM1646.7 2880.9h28v28h-28zM1650 2874.3h28v28h-28zM1653.3 2871h28v28h-28zM1656.6 2864.4h28v28h-28zM1659.9 2857.8h28v28h-28zM1666.5 2854.5h28v28h-28zM1669.8 2847.9h28v28h-28zM1676.4 2841.3h28v28h-28zM1679.7 2838h28v28h-28zM1683 2831.4h28v28h-28zM1686.3 2824.8h28v28h-28zM1689.6 2818.2h28v28h-28zM1692.9 2811.6h28v28h-28zM1699.5 2808.3h28v28h-28zM1702.8 2801.7h28v28h-28zM1706.1 2795.1h28v28h-28zM1709.4 2788.5h28v28h-28zM1712.7 2785.2h28v28h-28zM1719.3 2778.6h28v28h-28zM1722.6 2772h28v28h-28zM1729.2 2768.7h28v28h-28zM1732.5 2762.1h28v28h-28zM1735.8 2758.8h28v28h-28zM1742.4 2752.2h28v28h-28zM1745.7 2745.6h28v28h-28zM1749 2742.3h28v28h-28zM1755.6 2735.7h28v28h-28zM1758.9 2732.4h28v28h-28zM1765.5 2725.8h28v28h-28zM1768.8 2722.5h28v28h-28zM1775.4 2715.9h28v28h-28zM1778.7 2712.6h28v28h-28zM1785.3 2706h28v28h-28zM1788.6 2702.7h28v28h-28zM1795.2 2696.1h28v28h-28zM1801.8 2692.8h28v28h-28zM1805.1 2689.5h28v28h-28zM1811.7 2686.2h28v28h-28zM1818.3 2679.6h28v28h-28zM1821.6 2676.3h28v28h-28zM1828.2 2673h28v28h-28zM1834.8 2666.4h28v28h-28zM1838.1 2663.1h28v28h-28zM1844.7 2659.8h28v28h-28zM1848 2653.2h28v28h-28zM1854.6 2649.9h28v28h-28zM1861.2 2646.6h28v28h-28zM1864.5 2640h28v28h-28zM1867.8 2633.4h28v28h-28zM1874.4 2630.1h28v28h-28zM1877.7 2623.5h28v28h-28z"/>
</g>
<g filter="url(#soft)">
<rect x="1493.5" y="3322" width="658" height="552.5" fill="#fff" stroke="#050505" stroke-width="7"/>
<path d="M1540 3504L1698 3504" stroke="#505050" stroke-width="6" fill="none"/>
<rect x="1584" y="3467" width="67" height="76" fill="#606060"/>
<path d="M1540 3758L1698 3758" stroke="#f33" stroke-width="6" fill="none"/>
<rect x="1584" y="3721" width="67" height="74" fill="#ff0000"/>
<text class="serif" x="1750" y="3521" font-size="64" textLength="279" lengthAdjust="spacingAndGlyphs" fill="#2a2a2a" stroke="#2a2a2a" stroke-width="0.8">Experiment</text>
<text class="serif" x="1752" y="3762" font-size="64" textLength="260" lengthAdjust="spacingAndGlyphs" fill="#2a2a2a" stroke="#2a2a2a" stroke-width="0.8">Simulation</text>
</g>
<g filter="url(#soft)">
<text class="serif" x="1109" y="4360" font-size="114" textLength="365" lengthAdjust="spacingAndGlyphs" fill="#141414" stroke="#141414" stroke-width="1.2">Time (s)</text>
<text class="serif" transform="translate(107 3503.5) rotate(-90)" font-size="116" textLength="760" lengthAdjust="spacingAndGlyphs" fill="#141414" stroke="#141414" stroke-width="1.2">Temperature (K)</text>
</g>
<text class="serif" x="1107" y="4538" font-size="82" fill="#000">(<tspan font-weight="bold">b</tspan>)</text>
</svg>
</body></html>
